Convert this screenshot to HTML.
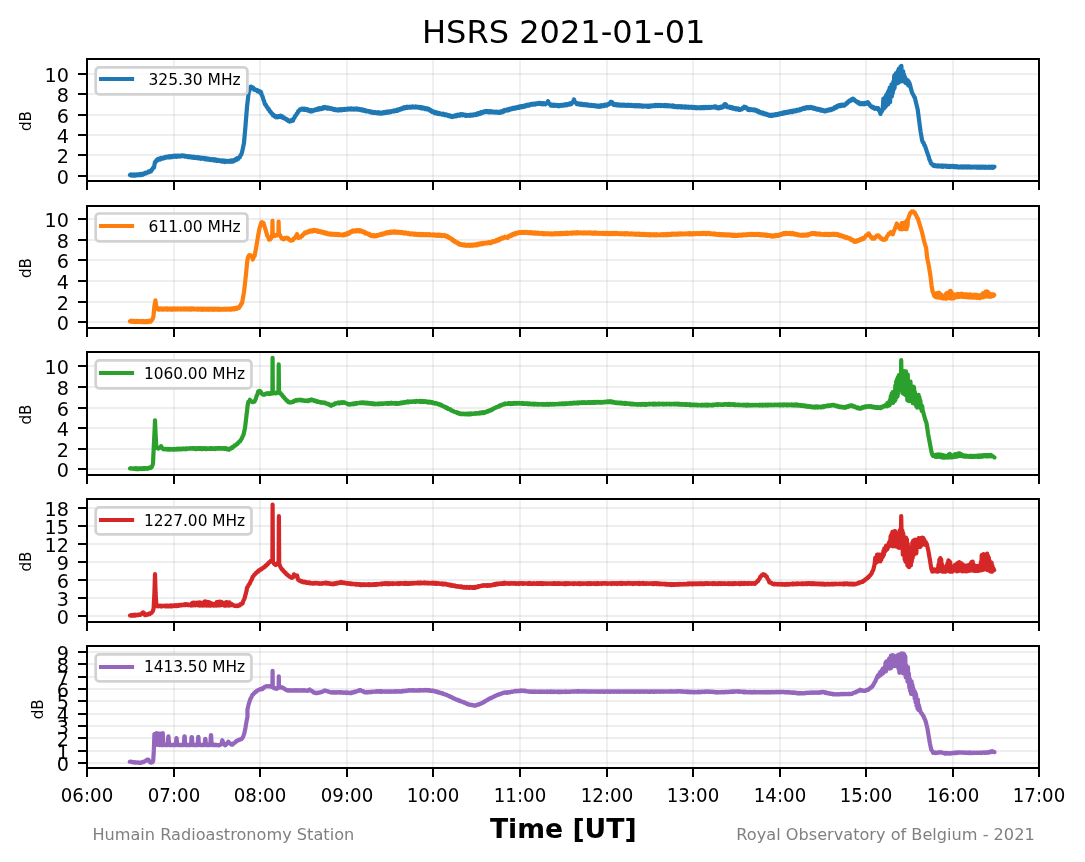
<!DOCTYPE html><html><head><meta charset="utf-8"><title>HSRS 2021-01-01</title>
<style>html,body{margin:0;padding:0;background:#fff}svg{display:block}text{font-family:"DejaVu Sans","Liberation Sans",sans-serif;fill:#000}.g{fill:#808080}</style></head><body>
<svg width="1085" height="862" viewBox="0 0 1085 862">
<rect width="1085" height="862" fill="#fff"/>
<text x="563.7" y="43.05" font-size="32.06" text-anchor="middle">HSRS 2021-01-01</text>
<g>
<line x1="174" y1="59" x2="174" y2="181" stroke="#b0b0b0" stroke-opacity="0.19" stroke-width="2"/>
<line x1="260" y1="59" x2="260" y2="181" stroke="#b0b0b0" stroke-opacity="0.19" stroke-width="2"/>
<line x1="347" y1="59" x2="347" y2="181" stroke="#b0b0b0" stroke-opacity="0.19" stroke-width="2"/>
<line x1="433" y1="59" x2="433" y2="181" stroke="#b0b0b0" stroke-opacity="0.19" stroke-width="2"/>
<line x1="520" y1="59" x2="520" y2="181" stroke="#b0b0b0" stroke-opacity="0.19" stroke-width="2"/>
<line x1="607" y1="59" x2="607" y2="181" stroke="#b0b0b0" stroke-opacity="0.19" stroke-width="2"/>
<line x1="693" y1="59" x2="693" y2="181" stroke="#b0b0b0" stroke-opacity="0.19" stroke-width="2"/>
<line x1="780" y1="59" x2="780" y2="181" stroke="#b0b0b0" stroke-opacity="0.19" stroke-width="2"/>
<line x1="866" y1="59" x2="866" y2="181" stroke="#b0b0b0" stroke-opacity="0.19" stroke-width="2"/>
<line x1="953" y1="59" x2="953" y2="181" stroke="#b0b0b0" stroke-opacity="0.19" stroke-width="2"/>
<line x1="87.0" y1="176" x2="1039.0" y2="176" stroke="#b0b0b0" stroke-opacity="0.21" stroke-width="2"/>
<line x1="87.0" y1="155" x2="1039.0" y2="155" stroke="#b0b0b0" stroke-opacity="0.21" stroke-width="2"/>
<line x1="87.0" y1="135" x2="1039.0" y2="135" stroke="#b0b0b0" stroke-opacity="0.21" stroke-width="2"/>
<line x1="87.0" y1="115" x2="1039.0" y2="115" stroke="#b0b0b0" stroke-opacity="0.21" stroke-width="2"/>
<line x1="87.0" y1="94" x2="1039.0" y2="94" stroke="#b0b0b0" stroke-opacity="0.21" stroke-width="2"/>
<line x1="87.0" y1="74" x2="1039.0" y2="74" stroke="#b0b0b0" stroke-opacity="0.21" stroke-width="2"/>
<path d="M130.0 175.0 L130.7 174.5 L131.4 175.6 L132.1 174.6 L132.8 175.5 L133.5 174.5 L134.2 175.5 L134.9 174.6 L135.6 175.6 L136.3 174.4 L137.0 175.4 L137.8 174.4 L138.5 175.1 L139.2 174.2 L140.0 175.1 L140.8 173.9 L141.5 175.0 L142.2 173.9 L143.0 174.6 L143.8 173.4 L144.6 173.8 L145.4 172.8 L146.2 173.3 L147.0 172.3 L147.8 172.6 L148.6 171.4 L149.4 172.0 L150.2 171.0 L151.0 171.4 L151.8 169.4 L152.5 169.3 L153.2 167.6 L154.0 167.5 L155.0 162.0 L155.8 161.9 L156.5 160.1 L157.2 160.6 L158.0 159.0 L158.8 159.6 L159.5 158.6 L160.2 159.4 L161.0 158.0 L161.8 158.7 L162.5 157.9 L163.2 158.4 L164.0 157.4 L164.8 158.0 L165.5 156.9 L166.2 157.6 L167.0 156.7 L167.7 157.3 L168.5 156.4 L169.2 157.3 L169.9 156.1 L170.6 157.2 L171.4 156.1 L172.1 157.0 L172.8 155.9 L173.5 156.6 L174.3 155.7 L175.0 156.7 L175.7 155.6 L176.5 156.7 L177.2 155.7 L177.9 156.5 L178.6 155.7 L179.4 156.5 L180.1 155.6 L180.8 156.2 L181.5 155.5 L182.3 156.2 L183.0 155.4 L183.7 156.2 L184.5 155.7 L185.2 156.5 L185.9 155.9 L186.6 156.7 L187.4 156.2 L188.1 157.1 L188.8 156.2 L189.5 157.1 L190.3 156.5 L191.0 157.4 L191.7 156.7 L192.4 157.5 L193.1 156.7 L193.8 157.9 L194.5 157.0 L195.2 157.9 L195.9 157.3 L196.6 158.0 L197.4 157.3 L198.1 158.2 L198.8 157.3 L199.5 158.3 L200.2 157.8 L200.9 158.8 L201.6 157.8 L202.3 158.6 L203.0 157.9 L203.7 158.8 L204.4 158.1 L205.1 159.3 L205.8 158.2 L206.5 159.4 L207.2 158.6 L207.9 159.5 L208.6 158.8 L209.4 159.8 L210.1 158.9 L210.8 160.0 L211.5 159.1 L212.2 160.0 L212.9 159.2 L213.6 160.4 L214.3 159.3 L215.0 160.6 L215.7 159.5 L216.4 160.7 L217.1 159.9 L217.9 160.9 L218.6 160.1 L219.3 160.9 L220.0 160.4 L220.7 161.2 L221.4 160.5 L222.1 161.5 L222.9 160.5 L223.6 161.6 L224.3 160.7 L225.0 162.0 L225.7 160.8 L226.5 161.7 L227.2 160.9 L227.9 161.6 L228.6 160.9 L229.4 161.5 L230.1 160.7 L230.8 161.7 L231.5 160.5 L232.3 161.5 L233.0 160.5 L233.8 161.2 L234.5 159.9 L235.2 160.4 L236.0 158.9 L236.8 159.7 L237.5 158.2 L238.2 158.8 L239.0 157.7 L239.8 157.3 L240.5 155.1 L241.2 154.8 L242.0 152.4 L244.0 143.0 L245.4 127.0 L247.0 107.0 L248.6 93.0 L250.6 86.6 L251.4 86.8 L252.3 88.2 L253.2 87.8 L254.0 89.5 L254.8 89.1 L255.6 90.1 L256.4 89.9 L257.2 91.2 L258.0 90.4 L258.8 91.7 L259.5 91.2 L260.2 92.8 L261.0 92.1 L261.8 95.2 L262.6 96.5 L263.4 99.7 L264.2 101.4 L265.0 104.6 L265.8 104.7 L266.6 106.9 L267.4 107.0 L268.2 109.2 L269.0 109.4 L269.8 111.6 L270.6 111.6 L271.4 113.4 L272.2 113.6 L273.0 115.4 L273.8 115.0 L274.5 116.4 L275.2 116.1 L276.0 117.3 L276.7 116.3 L277.4 117.2 L278.1 116.3 L278.9 117.1 L279.6 116.0 L280.3 116.9 L281.0 115.8 L281.8 117.3 L282.6 116.7 L283.4 118.1 L284.2 117.7 L285.0 118.8 L285.8 118.7 L286.6 119.9 L287.4 119.6 L288.2 121.1 L289.0 121.0 L289.8 121.6 L290.6 120.4 L291.4 121.0 L292.2 119.8 L293.0 120.5 L293.8 118.2 L294.5 117.8 L295.2 115.8 L296.0 115.4 L296.8 113.5 L297.5 113.3 L298.2 111.2 L299.0 111.1 L300.0 109.3 L301.0 109.6 L301.7 108.6 L302.4 109.6 L303.1 108.7 L303.9 109.7 L304.6 108.8 L305.3 109.8 L306.0 108.9 L306.7 110.1 L307.4 109.3 L308.1 110.6 L308.9 109.7 L309.6 111.1 L310.3 110.4 L311.0 111.5 L311.8 110.2 L312.5 111.2 L313.2 110.1 L314.0 110.5 L314.8 109.6 L315.5 110.1 L316.2 109.2 L317.0 109.7 L317.7 108.7 L318.5 109.6 L319.2 108.3 L319.9 109.1 L320.6 108.1 L321.4 108.9 L322.1 107.9 L322.8 108.7 L323.5 107.3 L324.3 108.1 L325.0 107.0 L325.8 108.1 L326.5 107.4 L327.2 108.6 L328.0 107.5 L328.8 108.6 L329.5 107.9 L330.2 108.9 L331.0 108.2 L331.8 109.1 L332.5 108.6 L333.2 109.7 L334.0 109.0 L334.8 109.9 L335.5 109.2 L336.2 110.1 L337.0 109.6 L337.8 110.4 L338.5 109.4 L339.2 110.2 L340.0 109.2 L340.8 110.3 L341.5 109.1 L342.2 110.0 L343.0 109.2 L343.8 109.8 L344.5 108.9 L345.2 109.7 L346.0 109.0 L346.8 109.6 L347.5 108.6 L348.2 109.6 L349.0 108.6 L349.7 109.3 L350.5 108.4 L351.2 109.5 L351.9 108.5 L352.6 109.3 L353.4 108.7 L354.1 109.5 L354.8 108.6 L355.5 109.3 L356.3 108.4 L357.0 109.5 L357.7 108.6 L358.5 109.6 L359.2 108.9 L359.9 109.9 L360.6 109.2 L361.4 110.3 L362.1 109.6 L362.8 110.6 L363.5 109.7 L364.3 110.8 L365.0 110.3 L365.7 111.2 L366.5 110.6 L367.2 111.4 L367.9 110.9 L368.6 111.7 L369.4 111.2 L370.1 112.1 L370.8 111.5 L371.5 112.6 L372.3 111.9 L373.0 112.8 L373.7 112.1 L374.5 112.9 L375.2 112.3 L375.9 113.0 L376.6 112.4 L377.4 113.3 L378.1 112.3 L378.8 113.2 L379.5 112.5 L380.3 113.5 L381.0 112.7 L381.7 113.5 L382.5 112.4 L383.2 113.2 L383.9 112.1 L384.6 113.0 L385.4 112.0 L386.1 112.9 L386.8 111.7 L387.5 112.6 L388.3 111.5 L389.0 112.5 L389.7 111.4 L390.5 112.1 L391.2 111.2 L391.9 111.7 L392.6 110.9 L393.4 111.4 L394.1 110.5 L394.8 111.2 L395.5 110.4 L396.3 110.9 L397.0 109.8 L397.7 110.7 L398.5 109.4 L399.2 110.0 L399.9 109.0 L400.6 109.5 L401.4 108.4 L402.1 109.0 L402.8 107.9 L403.5 108.5 L404.3 107.2 L405.0 108.2 L405.7 107.1 L406.4 107.8 L407.1 106.8 L407.8 107.7 L408.5 106.9 L409.2 107.5 L409.9 106.8 L410.6 107.6 L411.3 106.6 L412.0 107.3 L412.7 106.5 L413.4 107.3 L414.1 106.6 L414.9 107.3 L415.6 106.6 L416.3 107.3 L417.0 106.7 L417.8 107.5 L418.5 106.9 L419.2 107.9 L420.0 107.0 L420.8 108.2 L421.5 107.2 L422.2 108.4 L423.0 107.4 L423.7 108.6 L424.4 107.9 L425.1 109.0 L425.9 108.2 L426.6 109.2 L427.3 108.4 L428.0 109.3 L428.7 108.9 L429.4 110.4 L430.1 109.8 L430.9 111.2 L431.6 110.6 L432.3 111.9 L433.0 111.5 L433.8 112.7 L434.5 111.8 L435.2 113.2 L436.0 112.2 L436.8 113.5 L437.5 112.6 L438.2 113.9 L439.0 113.1 L439.7 114.1 L440.5 113.6 L441.2 114.3 L441.9 113.7 L442.6 114.6 L443.4 113.8 L444.1 115.0 L444.8 114.1 L445.5 115.2 L446.3 114.4 L447.0 115.4 L447.7 114.9 L448.4 116.0 L449.1 115.2 L449.9 116.4 L450.6 115.7 L451.3 116.9 L452.0 116.3 L452.7 117.0 L453.4 115.9 L454.1 116.4 L454.9 115.5 L455.6 116.3 L456.3 115.2 L457.0 115.9 L457.7 114.7 L458.4 115.6 L459.1 114.6 L459.9 115.4 L460.6 114.3 L461.3 115.3 L462.0 114.1 L462.7 115.2 L463.4 114.5 L464.1 115.3 L464.9 114.7 L465.6 115.7 L466.3 114.9 L467.0 115.9 L467.8 115.1 L468.5 115.6 L469.2 114.9 L470.0 115.7 L470.8 114.6 L471.5 115.6 L472.2 114.7 L473.0 115.5 L473.8 114.4 L474.5 115.1 L475.2 114.2 L476.0 114.9 L476.8 113.8 L477.5 114.6 L478.2 113.2 L479.0 113.9 L479.7 112.9 L480.4 113.7 L481.1 112.3 L481.8 113.2 L482.5 112.1 L483.2 112.6 L483.9 111.5 L484.6 112.2 L485.3 111.1 L486.0 111.7 L486.7 111.0 L487.4 112.1 L488.1 111.3 L488.8 112.2 L489.5 111.2 L490.2 112.3 L490.9 111.3 L491.6 112.2 L492.3 111.4 L493.0 112.4 L493.7 111.8 L494.4 112.4 L495.1 111.7 L495.8 112.6 L496.5 111.8 L497.2 112.6 L497.9 111.9 L498.6 112.7 L499.3 111.8 L500.0 112.7 L500.7 111.6 L501.4 112.4 L502.1 111.2 L502.9 111.9 L503.6 110.4 L504.3 111.3 L505.0 110.0 L506.0 110.6 L507.0 109.6 L507.7 110.4 L508.5 109.2 L509.2 109.9 L509.9 108.8 L510.6 109.5 L511.4 108.6 L512.1 109.0 L512.8 108.0 L513.5 108.7 L514.3 107.6 L515.0 108.4 L515.7 107.5 L516.5 108.2 L517.2 107.2 L517.9 107.8 L518.6 106.7 L519.4 107.7 L520.1 106.4 L520.8 107.3 L521.5 106.1 L522.3 107.1 L523.0 105.9 L523.7 106.7 L524.5 105.7 L525.2 106.4 L525.9 105.2 L526.6 106.0 L527.4 104.8 L528.1 105.5 L528.8 104.6 L529.5 105.4 L530.3 104.3 L531.0 104.8 L531.7 103.9 L532.5 104.6 L533.2 103.6 L533.9 104.6 L534.6 103.6 L535.4 104.4 L536.1 103.4 L536.8 104.1 L537.5 103.2 L538.3 103.8 L539.0 103.1 L539.7 103.8 L540.4 102.9 L541.1 104.0 L541.8 103.3 L542.5 104.3 L543.2 103.1 L543.9 104.3 L544.6 103.6 L545.3 104.3 L546.0 103.7 L547.0 103.1 L548.0 101.1 L549.0 103.6 L550.0 104.6 L550.8 105.5 L551.5 104.5 L552.2 105.7 L553.0 104.8 L553.8 105.7 L554.5 104.8 L555.2 105.8 L556.0 105.0 L556.8 105.8 L557.5 105.1 L558.2 106.2 L559.0 105.3 L559.7 106.0 L560.5 104.9 L561.2 105.9 L561.9 104.9 L562.6 105.5 L563.4 104.7 L564.1 105.4 L564.8 104.4 L565.5 105.4 L566.3 104.1 L567.0 105.2 L567.7 104.1 L568.4 104.5 L569.1 103.6 L569.9 104.5 L570.6 103.3 L571.3 104.1 L572.0 103.1 L573.0 102.1 L574.0 99.4 L575.0 102.3 L576.0 102.8 L576.7 104.1 L577.4 103.3 L578.1 104.1 L578.8 103.5 L579.5 104.5 L580.2 103.6 L580.9 104.8 L581.6 103.8 L582.3 105.0 L583.0 104.1 L583.7 105.1 L584.5 104.3 L585.2 105.1 L585.9 104.3 L586.6 105.3 L587.4 104.4 L588.1 105.6 L588.8 104.8 L589.5 105.6 L590.3 105.0 L591.0 105.9 L591.7 105.0 L592.5 105.9 L593.2 105.3 L593.9 106.1 L594.6 105.3 L595.4 106.2 L596.1 105.6 L596.8 106.5 L597.5 105.8 L598.3 106.5 L599.0 105.8 L599.7 106.7 L600.5 105.5 L601.2 106.5 L601.9 105.3 L602.6 106.0 L603.4 105.2 L604.1 106.0 L604.8 104.8 L605.5 105.6 L606.3 104.8 L607.0 105.4 L607.8 104.1 L608.5 104.6 L609.2 103.4 L610.0 103.9 L610.8 101.8 L611.6 101.8 L612.5 102.6 L613.4 104.8 L614.1 104.0 L614.9 105.0 L615.6 104.2 L616.4 105.2 L617.1 104.2 L617.8 105.2 L618.6 104.5 L619.3 105.5 L620.0 104.6 L620.8 105.6 L621.5 104.7 L622.3 105.5 L623.0 104.7 L623.7 105.6 L624.4 104.6 L625.1 105.7 L625.8 105.0 L626.5 105.7 L627.2 104.9 L627.9 105.9 L628.6 104.8 L629.4 105.7 L630.1 105.0 L630.8 105.8 L631.5 104.9 L632.2 105.8 L632.9 105.2 L633.6 105.9 L634.3 105.2 L635.0 106.2 L635.7 105.1 L636.4 106.2 L637.1 105.1 L637.8 106.3 L638.5 105.4 L639.2 106.2 L639.9 105.2 L640.6 106.4 L641.4 105.6 L642.1 106.5 L642.8 105.6 L643.5 106.4 L644.2 105.7 L644.9 106.4 L645.6 105.8 L646.3 106.5 L647.0 105.8 L647.7 106.8 L648.4 105.8 L649.1 106.7 L649.8 105.7 L650.5 106.4 L651.2 105.4 L651.9 106.4 L652.6 105.4 L653.4 106.1 L654.1 105.3 L654.8 106.1 L655.5 105.0 L656.2 105.9 L656.9 105.1 L657.6 106.1 L658.3 105.2 L659.0 105.8 L659.7 104.9 L660.5 106.0 L661.2 105.2 L661.9 105.8 L662.6 105.2 L663.4 106.1 L664.1 105.2 L664.8 106.1 L665.5 105.0 L666.3 106.0 L667.0 105.2 L667.7 106.3 L668.4 105.3 L669.1 106.2 L669.9 105.4 L670.6 106.3 L671.3 105.7 L672.0 106.4 L672.7 105.6 L673.4 106.8 L674.1 105.8 L674.9 107.0 L675.6 106.2 L676.3 106.9 L677.0 106.2 L677.7 107.2 L678.4 106.1 L679.1 107.1 L679.9 106.3 L680.6 107.2 L681.3 106.3 L682.0 107.4 L682.7 106.5 L683.4 107.4 L684.1 106.4 L684.9 107.5 L685.6 106.4 L686.3 107.5 L687.0 106.6 L687.7 107.4 L688.4 106.7 L689.1 107.7 L689.9 106.9 L690.6 107.6 L691.3 106.8 L692.0 107.8 L692.7 107.2 L693.4 107.8 L694.1 107.1 L694.9 108.0 L695.6 107.1 L696.3 108.3 L697.0 107.2 L697.7 108.1 L698.4 107.4 L699.1 108.0 L699.9 107.2 L700.6 108.2 L701.3 107.2 L702.0 108.0 L702.7 107.2 L703.4 108.0 L704.1 107.0 L704.9 108.0 L705.6 106.9 L706.3 107.9 L707.0 107.1 L707.8 107.9 L708.5 107.0 L709.2 107.8 L710.0 106.9 L710.8 107.8 L711.5 106.9 L712.2 107.5 L713.0 106.8 L713.8 107.4 L714.5 106.5 L715.2 107.5 L716.0 106.6 L717.0 108.0 L717.8 107.5 L718.5 108.4 L719.2 107.2 L720.0 107.9 L720.8 106.8 L721.5 107.8 L722.2 106.5 L723.0 107.3 L724.0 104.8 L725.0 104.0 L726.0 104.4 L727.0 107.2 L727.7 106.5 L728.5 107.3 L729.2 106.8 L729.9 107.7 L730.6 106.9 L731.4 108.2 L732.1 107.3 L732.8 108.5 L733.5 107.7 L734.3 108.9 L735.0 108.2 L735.8 109.3 L736.5 108.2 L737.2 109.3 L738.0 108.6 L738.8 109.7 L739.5 109.0 L740.2 109.9 L741.0 109.3 L741.8 109.3 L742.6 108.0 L743.4 108.3 L744.2 106.7 L745.0 106.9 L745.8 107.0 L746.5 108.4 L747.2 108.2 L748.0 109.7 L748.7 109.1 L749.4 109.9 L750.1 109.0 L750.8 110.1 L751.5 109.4 L752.2 110.1 L752.9 109.4 L753.6 110.3 L754.3 109.4 L755.0 110.3 L755.8 110.0 L756.5 111.2 L757.2 110.6 L758.0 111.7 L758.8 111.2 L759.5 112.6 L760.2 111.9 L761.0 113.1 L761.8 112.4 L762.5 113.5 L763.2 112.8 L764.0 114.2 L764.8 113.4 L765.5 114.4 L766.2 113.8 L767.0 114.9 L767.8 114.5 L768.6 115.5 L769.4 114.7 L770.2 115.8 L771.0 115.0 L771.8 115.9 L772.5 114.7 L773.2 115.4 L774.0 114.6 L774.8 115.2 L775.5 114.2 L776.2 115.1 L777.0 114.1 L777.7 114.7 L778.5 113.7 L779.2 114.4 L779.9 113.4 L780.6 114.0 L781.4 113.0 L782.1 113.8 L782.8 112.8 L783.5 113.4 L784.3 112.2 L785.0 113.2 L785.7 112.1 L786.5 112.7 L787.2 111.7 L787.9 112.8 L788.6 111.6 L789.4 112.2 L790.1 111.2 L790.8 112.1 L791.5 111.0 L792.3 112.0 L793.0 110.8 L793.8 111.6 L794.5 110.5 L795.2 111.2 L796.0 110.3 L796.8 111.1 L797.5 109.8 L798.2 110.5 L799.0 109.6 L799.8 110.2 L800.5 109.0 L801.2 109.7 L802.0 108.7 L802.8 109.1 L803.5 108.0 L804.2 108.8 L805.0 107.7 L805.8 108.4 L806.5 107.3 L807.2 108.1 L808.0 107.1 L808.8 107.9 L809.5 107.1 L810.2 107.9 L811.0 106.9 L811.8 108.0 L812.5 107.4 L813.2 108.5 L814.0 107.8 L814.8 108.9 L815.5 108.2 L816.2 109.2 L817.0 108.7 L817.7 109.7 L818.5 108.9 L819.2 109.9 L819.9 109.2 L820.6 110.5 L821.4 109.7 L822.1 110.6 L822.8 110.0 L823.5 111.0 L824.3 110.5 L825.0 111.4 L825.7 110.5 L826.5 111.1 L827.2 110.0 L827.9 110.6 L828.6 109.6 L829.4 110.2 L830.1 109.2 L830.8 110.1 L831.5 108.9 L832.3 109.5 L833.0 108.5 L833.8 109.0 L834.5 107.5 L835.2 108.1 L836.0 106.7 L836.8 107.5 L837.5 105.9 L838.2 106.6 L839.0 105.3 L839.8 106.1 L840.5 105.0 L841.2 106.0 L842.0 104.7 L842.8 105.6 L843.5 104.6 L844.2 105.7 L845.0 104.7 L845.8 104.7 L846.6 103.0 L847.4 103.2 L848.2 101.5 L849.0 101.8 L849.8 100.4 L850.6 100.8 L851.4 99.5 L852.2 100.1 L853.0 98.6 L853.8 100.0 L854.6 99.7 L855.4 101.2 L856.2 101.1 L857.0 102.3 L857.8 102.0 L858.5 103.3 L859.2 102.6 L860.0 104.1 L860.7 103.2 L861.5 104.1 L862.2 103.3 L862.9 104.1 L863.7 103.2 L864.4 104.2 L865.1 103.0 L865.8 103.8 L866.6 102.6 L867.3 103.4 L868.0 102.3 L868.8 104.2 L869.5 104.1 L870.2 106.1 L871.0 106.1 L871.7 107.3 L872.4 106.7 L873.2 108.0 L873.9 107.5 L874.6 108.7 L875.3 107.9 L876.1 108.8 L876.8 108.1 L877.5 109.0 L878.3 108.3 L879.0 110.7 L879.7 111.3 L880.5 113.9 L881.2 111.6 L881.9 111.3 L882.7 109.2 L883.4 98.6 L883.8 108.6 L884.3 98.7 L884.7 107.7 L885.2 97.1 L885.6 106.6 L886.1 95.2 L886.5 105.3 L887.0 94.1 L887.4 104.6 L887.9 92.0 L888.3 104.1 L888.8 90.4 L889.2 99.6 L889.7 87.7 L890.1 102.2 L890.6 87.4 L891.0 94.2 L891.5 84.3 L891.9 96.4 L892.4 86.4 L892.8 93.2 L893.3 81.5 L893.7 89.7 L894.2 75.7 L894.6 88.0 L895.1 74.5 L895.5 83.2 L896.0 73.0 L896.4 83.4 L896.9 73.1 L897.3 83.3 L897.8 71.2 L898.2 83.0 L898.7 68.9 L899.1 82.2 L899.6 69.6 L900.0 81.3 L900.5 66.6 L900.9 80.0 L901.4 65.9 L901.8 81.3 L902.3 71.3 L902.7 79.9 L903.2 71.4 L903.6 81.2 L904.1 74.6 L904.5 80.2 L905.0 77.1 L905.4 82.8 L905.9 80.0 L906.3 83.3 L906.8 79.6 L907.2 83.3 L907.7 80.4 L908.1 85.0 L908.6 81.3 L909.0 85.7 L909.5 83.1 L911.9 92.1 L912.6 93.8 L913.3 94.7 L914.1 96.8 L914.8 97.4 L917.7 109.6 L919.2 121.3 L920.6 131.5 L922.1 140.3 L922.8 142.2 L923.6 142.8 L924.3 145.3 L925.0 145.8 L928.0 154.9 L928.7 156.6 L929.4 159.4 L930.1 160.7 L930.9 163.2 L931.6 163.4 L932.3 164.9 L933.1 165.0 L933.8 165.9 L934.5 165.1 L935.3 166.1 L936.0 165.4 L936.7 166.3 L937.5 165.4 L938.2 166.3 L938.9 165.4 L939.6 166.4 L940.4 165.7 L941.1 166.4 L941.8 165.6 L942.6 166.7 L943.3 165.6 L944.0 166.6 L944.8 165.8 L945.5 166.5 L946.2 165.8 L947.0 166.8 L947.7 165.9 L948.4 166.8 L949.1 166.0 L949.9 167.0 L950.6 165.9 L951.3 166.9 L952.1 165.9 L952.8 166.9 L953.5 166.1 L954.3 167.1 L955.0 166.3 L955.7 167.0 L956.4 166.2 L957.2 167.1 L957.9 166.4 L958.6 167.5 L959.4 166.6 L960.1 167.2 L960.8 166.4 L961.6 167.4 L962.3 166.4 L963.0 167.5 L963.8 166.6 L964.5 167.3 L965.2 166.6 L965.9 167.3 L966.7 166.4 L967.4 167.5 L968.1 166.5 L968.9 167.3 L969.6 166.5 L970.3 167.6 L971.1 166.6 L971.8 167.6 L972.5 166.6 L973.3 167.4 L974.0 166.8 L974.7 167.4 L975.4 166.8 L976.2 167.5 L976.9 166.6 L977.6 167.6 L978.4 166.6 L979.1 167.7 L979.8 166.8 L980.6 167.6 L981.3 166.7 L982.0 167.7 L982.8 166.7 L983.5 167.5 L984.2 166.7 L984.9 167.8 L985.7 166.8 L986.4 167.8 L987.1 166.9 L987.9 167.6 L988.6 166.8 L989.3 167.7 L990.1 166.6 L990.8 167.7 L991.5 166.8 L992.3 167.8 L993.0 166.8 L993.7 167.5 L994.4 166.6" fill="none" stroke="#1f77b4" stroke-width="4.2" stroke-linejoin="round" stroke-linecap="round"/>
<line x1="87" y1="181" x2="87" y2="190" stroke="#000" stroke-width="2"/>
<line x1="174" y1="181" x2="174" y2="190" stroke="#000" stroke-width="2"/>
<line x1="260" y1="181" x2="260" y2="190" stroke="#000" stroke-width="2"/>
<line x1="347" y1="181" x2="347" y2="190" stroke="#000" stroke-width="2"/>
<line x1="433" y1="181" x2="433" y2="190" stroke="#000" stroke-width="2"/>
<line x1="520" y1="181" x2="520" y2="190" stroke="#000" stroke-width="2"/>
<line x1="607" y1="181" x2="607" y2="190" stroke="#000" stroke-width="2"/>
<line x1="693" y1="181" x2="693" y2="190" stroke="#000" stroke-width="2"/>
<line x1="780" y1="181" x2="780" y2="190" stroke="#000" stroke-width="2"/>
<line x1="866" y1="181" x2="866" y2="190" stroke="#000" stroke-width="2"/>
<line x1="953" y1="181" x2="953" y2="190" stroke="#000" stroke-width="2"/>
<line x1="1039" y1="181" x2="1039" y2="190" stroke="#000" stroke-width="2"/>
<line x1="78.0" y1="176" x2="87.0" y2="176" stroke="#000" stroke-width="2"/>
<text x="69" y="184" font-size="19.2" text-anchor="end">0</text>
<line x1="78.0" y1="155" x2="87.0" y2="155" stroke="#000" stroke-width="2"/>
<text x="69" y="163" font-size="19.2" text-anchor="end">2</text>
<line x1="78.0" y1="135" x2="87.0" y2="135" stroke="#000" stroke-width="2"/>
<text x="69" y="143" font-size="19.2" text-anchor="end">4</text>
<line x1="78.0" y1="115" x2="87.0" y2="115" stroke="#000" stroke-width="2"/>
<text x="69" y="123" font-size="19.2" text-anchor="end">6</text>
<line x1="78.0" y1="94" x2="87.0" y2="94" stroke="#000" stroke-width="2"/>
<text x="69" y="102" font-size="19.2" text-anchor="end">8</text>
<line x1="78.0" y1="74" x2="87.0" y2="74" stroke="#000" stroke-width="2"/>
<text x="69" y="82" font-size="19.2" text-anchor="end">10</text>
<rect x="87.0" y="59" width="952.0" height="122" fill="none" stroke="#000" stroke-width="2"/>
<text transform="translate(31,121.0) rotate(-90)" font-size="16" text-anchor="middle" textLength="20" lengthAdjust="spacingAndGlyphs">dB</text>
<rect x="95.7" y="67.35" width="151.7" height="27.05" rx="3.6" fill="#fff" fill-opacity="0.8" stroke="#d2d2d2" stroke-width="2.7"/>
<line x1="99.0" y1="79.0" x2="134.1" y2="79.0" stroke="#1f77b4" stroke-width="4.1"/>
<text x="148.5" y="84.9" font-size="16.2" textLength="92.2" lengthAdjust="spacingAndGlyphs">325.30 MHz</text>
</g>
<g>
<line x1="174" y1="206" x2="174" y2="328" stroke="#b0b0b0" stroke-opacity="0.19" stroke-width="2"/>
<line x1="260" y1="206" x2="260" y2="328" stroke="#b0b0b0" stroke-opacity="0.19" stroke-width="2"/>
<line x1="347" y1="206" x2="347" y2="328" stroke="#b0b0b0" stroke-opacity="0.19" stroke-width="2"/>
<line x1="433" y1="206" x2="433" y2="328" stroke="#b0b0b0" stroke-opacity="0.19" stroke-width="2"/>
<line x1="520" y1="206" x2="520" y2="328" stroke="#b0b0b0" stroke-opacity="0.19" stroke-width="2"/>
<line x1="607" y1="206" x2="607" y2="328" stroke="#b0b0b0" stroke-opacity="0.19" stroke-width="2"/>
<line x1="693" y1="206" x2="693" y2="328" stroke="#b0b0b0" stroke-opacity="0.19" stroke-width="2"/>
<line x1="780" y1="206" x2="780" y2="328" stroke="#b0b0b0" stroke-opacity="0.19" stroke-width="2"/>
<line x1="866" y1="206" x2="866" y2="328" stroke="#b0b0b0" stroke-opacity="0.19" stroke-width="2"/>
<line x1="953" y1="206" x2="953" y2="328" stroke="#b0b0b0" stroke-opacity="0.19" stroke-width="2"/>
<line x1="87.0" y1="322" x2="1039.0" y2="322" stroke="#b0b0b0" stroke-opacity="0.21" stroke-width="2"/>
<line x1="87.0" y1="302" x2="1039.0" y2="302" stroke="#b0b0b0" stroke-opacity="0.21" stroke-width="2"/>
<line x1="87.0" y1="281" x2="1039.0" y2="281" stroke="#b0b0b0" stroke-opacity="0.21" stroke-width="2"/>
<line x1="87.0" y1="260" x2="1039.0" y2="260" stroke="#b0b0b0" stroke-opacity="0.21" stroke-width="2"/>
<line x1="87.0" y1="240" x2="1039.0" y2="240" stroke="#b0b0b0" stroke-opacity="0.21" stroke-width="2"/>
<line x1="87.0" y1="219" x2="1039.0" y2="219" stroke="#b0b0b0" stroke-opacity="0.21" stroke-width="2"/>
<path d="M130.0 321.4 L130.8 320.9 L131.5 321.7 L132.2 320.8 L133.0 321.7 L133.8 321.0 L134.5 322.0 L135.2 320.9 L136.0 321.9 L136.8 321.0 L137.5 321.7 L138.2 320.9 L139.0 321.7 L139.7 321.1 L140.5 321.8 L141.2 321.2 L141.9 321.9 L142.6 321.0 L143.4 322.0 L144.1 321.1 L144.8 322.0 L145.5 321.2 L146.3 321.9 L147.0 321.1 L147.7 321.9 L148.5 320.9 L149.2 321.9 L149.9 320.8 L150.7 321.5 L151.4 320.5 L152.4 319.4 L153.4 316.7 L154.4 306.0 L155.4 300.4 L156.4 307.0 L157.4 309.0 L158.1 309.5 L158.9 308.5 L159.6 309.5 L160.4 308.5 L161.1 309.5 L161.8 308.5 L162.6 309.5 L163.3 308.6 L164.0 309.4 L164.8 308.5 L165.5 309.3 L166.3 308.6 L167.0 309.5 L167.7 308.5 L168.4 309.5 L169.1 308.7 L169.9 309.4 L170.6 308.6 L171.3 309.5 L172.0 308.6 L172.7 309.5 L173.4 308.4 L174.1 309.3 L174.9 308.5 L175.6 309.5 L176.3 308.6 L177.0 309.4 L177.7 308.4 L178.4 309.3 L179.1 308.6 L179.9 309.3 L180.6 308.5 L181.3 309.6 L182.0 308.6 L182.7 309.3 L183.4 308.6 L184.1 309.4 L184.9 308.5 L185.6 309.4 L186.3 308.5 L187.0 309.5 L187.7 308.6 L188.4 309.4 L189.1 308.5 L189.9 309.4 L190.6 308.6 L191.3 309.4 L192.0 308.5 L192.7 309.4 L193.4 308.5 L194.1 309.4 L194.9 308.8 L195.6 309.4 L196.3 308.7 L197.0 309.4 L197.7 308.7 L198.4 309.5 L199.1 308.6 L199.9 309.5 L200.6 308.8 L201.3 309.5 L202.0 308.7 L202.7 309.7 L203.4 308.7 L204.1 309.5 L204.9 308.7 L205.6 309.6 L206.3 308.9 L207.0 309.5 L207.7 308.7 L208.4 309.7 L209.1 308.7 L209.9 309.6 L210.6 308.8 L211.3 309.5 L212.0 308.6 L212.7 309.6 L213.4 308.7 L214.1 309.7 L214.9 308.7 L215.6 309.6 L216.3 308.8 L217.0 309.6 L217.7 308.9 L218.4 309.7 L219.1 308.8 L219.9 309.7 L220.6 308.9 L221.3 309.6 L222.0 308.9 L222.7 309.6 L223.4 308.9 L224.1 309.5 L224.9 308.7 L225.6 309.6 L226.3 308.9 L227.0 309.6 L227.7 308.7 L228.5 309.5 L229.2 308.6 L229.9 309.5 L230.6 308.6 L231.4 309.5 L232.1 308.4 L232.8 309.2 L233.5 308.3 L234.3 309.4 L235.0 308.3 L235.8 308.9 L236.6 307.8 L237.4 308.5 L238.2 307.6 L239.0 307.9 L239.8 305.9 L240.5 305.8 L241.2 303.8 L242.0 303.3 L244.0 292.0 L245.4 280.0 L246.4 270.0 L247.3 260.7 L247.9 257.8 L248.7 255.8 L249.5 255.0 L250.3 255.3 L251.6 255.7 L252.8 259.5 L253.7 257.1 L254.5 256.3 L256.2 247.5 L257.8 237.5 L259.5 228.4 L261.1 223.0 L261.8 222.1 L262.5 222.5 L263.3 222.7 L264.0 224.7 L265.7 230.1 L267.3 235.9 L268.2 237.0 L269.0 239.7 L270.3 239.5 L271.3 237.9 L272.2 234.2 L272.5 220.8 L272.7 234.2 L274.0 236.0 L274.8 234.9 L275.6 235.8 L276.5 234.7 L277.3 235.3 L278.4 233.4 L278.6 221.6 L278.9 233.4 L280.0 235.2 L281.0 237.1 L281.9 238.6 L282.7 238.8 L283.7 239.3 L284.8 237.9 L285.6 238.6 L286.4 237.7 L287.3 238.2 L288.1 238.2 L288.9 239.6 L289.7 239.6 L290.8 240.7 L291.8 240.4 L292.9 240.2 L293.9 238.3 L294.9 238.1 L296.0 236.0 L297.0 234.2 L297.6 237.1 L298.5 238.0 L299.3 237.5 L300.3 237.5 L301.4 235.8 L302.2 236.1 L303.0 234.4 L303.8 234.5 L304.7 232.8 L305.5 233.2 L306.3 232.1 L307.2 232.6 L308.0 231.4 L308.8 232.0 L309.7 230.8 L310.5 231.6 L311.3 230.5 L312.1 231.4 L312.8 230.3 L313.6 231.1 L314.3 230.0 L315.0 230.7 L315.8 230.1 L316.5 231.3 L317.3 230.6 L318.0 231.7 L318.8 230.9 L319.6 231.9 L320.4 231.3 L321.3 232.4 L322.1 231.8 L322.8 232.7 L323.5 232.1 L324.3 233.2 L325.0 232.4 L325.8 233.5 L326.6 232.8 L327.4 234.0 L328.2 233.4 L329.0 234.3 L329.7 233.6 L330.5 234.6 L331.2 233.6 L331.9 234.7 L332.6 233.8 L333.4 234.6 L334.1 233.9 L334.8 234.7 L335.5 233.9 L336.3 234.9 L337.0 234.1 L337.8 235.0 L338.5 234.0 L339.2 235.1 L340.0 234.4 L340.8 235.1 L341.5 234.6 L342.2 235.2 L343.0 234.4 L343.7 235.3 L344.4 234.1 L345.1 234.9 L345.9 233.6 L346.6 234.5 L347.3 233.3 L348.0 234.1 L348.7 232.7 L349.4 233.3 L350.1 232.0 L350.9 232.4 L351.6 231.3 L352.3 231.8 L353.0 230.5 L353.7 231.3 L354.4 230.6 L355.1 231.2 L355.8 230.3 L356.5 231.4 L357.2 230.3 L357.9 231.1 L358.6 230.2 L359.3 231.2 L360.0 230.2 L360.7 231.2 L361.4 230.8 L362.1 231.9 L362.9 231.4 L363.6 232.4 L364.3 231.8 L365.0 233.2 L365.8 232.7 L366.5 233.7 L367.2 233.4 L368.0 234.3 L368.8 233.8 L369.5 235.1 L370.2 234.5 L371.0 235.8 L371.7 235.2 L372.4 236.0 L373.1 235.2 L373.9 236.3 L374.6 235.3 L375.3 236.3 L376.0 235.6 L376.8 236.0 L377.5 235.0 L378.2 235.6 L379.0 234.7 L379.8 235.0 L380.5 234.2 L381.2 234.7 L382.0 233.7 L382.7 234.4 L383.4 233.4 L384.1 234.1 L384.8 233.1 L385.5 233.5 L386.2 232.5 L386.9 233.2 L387.6 232.2 L388.3 232.9 L389.0 232.1 L389.8 232.9 L390.5 231.8 L391.2 232.8 L392.0 231.7 L392.8 232.4 L393.5 231.6 L394.2 232.5 L395.0 231.6 L395.8 232.6 L396.5 231.8 L397.2 232.7 L398.0 231.7 L398.8 232.5 L399.5 232.0 L400.2 232.8 L401.0 231.9 L401.7 232.8 L402.5 232.3 L403.2 233.2 L403.9 232.5 L404.6 233.5 L405.4 232.6 L406.1 233.4 L406.8 232.9 L407.5 233.8 L408.3 233.1 L409.0 234.1 L409.7 233.4 L410.5 234.3 L411.2 233.4 L411.9 234.4 L412.6 233.5 L413.4 234.4 L414.1 233.7 L414.8 234.7 L415.5 233.7 L416.3 234.8 L417.0 234.0 L417.7 234.8 L418.4 234.1 L419.1 235.0 L419.9 234.0 L420.6 235.0 L421.3 234.1 L422.0 235.0 L422.7 233.9 L423.4 235.1 L424.1 234.1 L424.9 234.9 L425.6 234.2 L426.3 235.1 L427.0 234.2 L427.7 235.1 L428.4 234.2 L429.1 235.3 L429.9 234.3 L430.6 235.2 L431.3 234.6 L432.0 235.2 L432.7 234.5 L433.4 235.4 L434.1 234.5 L434.9 235.6 L435.6 234.8 L436.3 235.7 L437.0 234.7 L437.7 235.8 L438.5 234.8 L439.2 235.7 L439.9 234.8 L440.6 235.9 L441.4 234.9 L442.1 236.0 L442.8 235.1 L443.5 235.8 L444.3 235.1 L445.0 236.1 L445.7 235.6 L446.4 236.8 L447.1 236.1 L447.9 237.3 L448.6 236.9 L449.3 238.1 L450.0 237.6 L450.7 238.8 L451.4 238.7 L452.1 240.0 L452.9 239.5 L453.6 241.0 L454.3 240.8 L455.0 242.1 L455.7 241.5 L456.4 242.7 L457.1 242.4 L457.9 243.7 L458.6 243.1 L459.3 244.4 L460.0 244.0 L460.7 244.9 L461.4 244.3 L462.1 245.0 L462.8 244.5 L463.5 245.4 L464.2 244.6 L464.9 245.5 L465.6 244.8 L466.3 245.7 L467.0 245.1 L467.7 245.6 L468.5 244.7 L469.2 245.7 L469.9 245.0 L470.6 245.7 L471.4 244.7 L472.1 245.5 L472.8 244.7 L473.5 245.4 L474.3 244.6 L475.0 245.3 L475.7 244.6 L476.5 245.3 L477.2 244.0 L477.9 244.8 L478.6 243.8 L479.4 244.5 L480.1 243.5 L480.8 244.2 L481.5 243.1 L482.3 244.1 L483.0 242.9 L483.7 243.9 L484.5 242.9 L485.2 243.4 L485.9 242.7 L486.6 243.3 L487.4 242.6 L488.1 243.0 L488.8 242.2 L489.5 243.1 L490.3 242.1 L491.0 243.0 L491.8 241.6 L492.5 242.2 L493.2 241.2 L494.0 241.8 L494.8 240.9 L495.5 241.5 L496.2 240.3 L497.0 240.8 L497.7 239.6 L498.5 240.3 L499.2 239.0 L499.9 239.6 L500.6 238.5 L501.4 238.9 L502.1 237.7 L502.8 238.5 L503.5 237.3 L504.3 237.6 L505.0 236.7 L506.0 237.7 L507.0 237.1 L507.8 237.7 L508.5 236.3 L509.2 236.7 L510.0 235.5 L510.8 236.1 L511.5 234.7 L512.2 235.4 L513.0 234.1 L513.8 234.5 L514.5 233.4 L515.2 234.3 L516.0 233.0 L516.8 233.6 L517.5 232.6 L518.2 233.3 L519.0 232.3 L519.7 232.9 L520.5 232.2 L521.2 232.8 L521.9 232.1 L522.6 232.8 L523.4 232.2 L524.1 232.8 L524.8 232.0 L525.5 232.7 L526.3 231.9 L527.0 232.7 L527.7 232.2 L528.4 233.1 L529.1 232.2 L529.9 233.2 L530.6 232.1 L531.3 233.3 L532.0 232.5 L532.7 233.3 L533.4 232.6 L534.1 233.5 L534.9 232.5 L535.6 233.5 L536.3 232.7 L537.0 233.6 L537.7 232.7 L538.4 233.7 L539.1 232.9 L539.9 233.7 L540.6 233.1 L541.3 233.7 L542.0 233.0 L542.7 234.0 L543.4 233.3 L544.1 234.2 L544.9 233.3 L545.6 234.1 L546.3 233.4 L547.0 234.1 L547.7 233.3 L548.4 234.1 L549.1 233.4 L549.9 234.2 L550.6 233.4 L551.3 234.3 L552.0 233.4 L552.7 234.3 L553.4 233.4 L554.1 234.2 L554.9 233.2 L555.6 234.0 L556.3 233.2 L557.0 234.0 L557.7 233.2 L558.4 233.9 L559.1 233.2 L559.9 234.1 L560.6 232.9 L561.3 234.1 L562.0 233.2 L562.7 233.8 L563.4 232.9 L564.1 233.7 L564.9 233.0 L565.6 233.8 L566.3 232.8 L567.0 233.7 L567.7 232.8 L568.4 233.7 L569.1 233.0 L569.9 233.5 L570.6 232.7 L571.3 233.6 L572.0 232.8 L572.7 233.5 L573.4 232.5 L574.1 233.3 L574.9 232.5 L575.6 233.2 L576.3 232.5 L577.0 233.3 L577.7 232.3 L578.4 233.2 L579.1 232.6 L579.9 233.1 L580.6 232.4 L581.3 233.3 L582.0 232.6 L582.7 233.2 L583.4 232.5 L584.1 233.4 L584.9 232.4 L585.6 233.4 L586.3 232.7 L587.0 233.3 L587.7 232.5 L588.4 233.4 L589.1 232.6 L589.9 233.3 L590.6 232.6 L591.3 233.5 L592.0 232.6 L592.7 233.7 L593.4 232.7 L594.1 233.4 L594.9 232.6 L595.6 233.6 L596.3 232.6 L597.0 233.5 L597.7 232.9 L598.4 233.8 L599.1 232.9 L599.9 233.6 L600.6 232.9 L601.3 233.7 L602.0 233.0 L602.7 233.7 L603.4 232.9 L604.1 233.8 L604.9 233.1 L605.6 233.9 L606.3 232.9 L607.0 233.9 L607.7 233.1 L608.4 233.9 L609.1 233.1 L609.9 234.0 L610.6 233.2 L611.3 234.0 L612.0 232.9 L612.7 233.9 L613.4 233.1 L614.1 234.0 L614.9 233.1 L615.6 233.8 L616.3 233.0 L617.0 233.9 L617.7 233.3 L618.4 233.9 L619.1 233.3 L619.9 234.2 L620.6 233.4 L621.3 234.0 L622.0 233.2 L622.7 234.0 L623.4 233.5 L624.1 234.2 L624.9 233.3 L625.6 234.2 L626.3 233.3 L627.0 234.1 L627.7 233.3 L628.4 234.3 L629.1 233.6 L629.9 234.2 L630.6 233.5 L631.3 234.4 L632.0 233.6 L632.7 234.3 L633.4 233.7 L634.1 234.4 L634.9 233.7 L635.6 234.7 L636.3 233.9 L637.0 234.6 L637.7 233.7 L638.4 234.6 L639.1 233.8 L639.9 234.9 L640.6 234.0 L641.3 234.8 L642.0 233.9 L642.7 234.9 L643.4 234.1 L644.1 235.0 L644.9 234.0 L645.6 234.9 L646.3 234.2 L647.0 235.0 L647.7 234.2 L648.4 235.2 L649.1 234.1 L649.9 235.2 L650.6 234.2 L651.3 235.2 L652.0 234.4 L652.7 235.1 L653.4 234.2 L654.1 235.3 L654.9 234.4 L655.6 235.2 L656.3 234.3 L657.0 235.2 L657.7 234.4 L658.4 235.1 L659.1 234.4 L659.9 235.2 L660.6 234.5 L661.3 235.0 L662.0 234.1 L662.7 235.2 L663.4 234.1 L664.1 235.1 L664.9 234.1 L665.6 235.2 L666.3 234.1 L667.0 234.9 L667.7 234.1 L668.4 234.9 L669.1 234.0 L669.9 234.8 L670.6 234.0 L671.3 234.9 L672.0 233.8 L672.7 234.6 L673.4 233.8 L674.1 234.6 L674.9 233.6 L675.6 234.4 L676.3 233.7 L677.0 234.5 L677.7 233.7 L678.4 234.4 L679.1 233.4 L679.9 234.4 L680.6 233.6 L681.3 234.3 L682.0 233.5 L682.7 234.2 L683.4 233.6 L684.1 234.2 L684.9 233.5 L685.6 234.2 L686.3 233.5 L687.0 234.1 L687.7 233.5 L688.4 234.2 L689.1 233.2 L689.9 234.2 L690.6 233.3 L691.3 234.2 L692.0 233.4 L692.7 234.2 L693.4 233.3 L694.1 234.1 L694.9 233.2 L695.6 234.0 L696.3 233.3 L697.0 233.9 L697.7 233.3 L698.4 234.0 L699.1 233.2 L699.9 234.0 L700.6 233.3 L701.3 233.9 L702.0 233.0 L702.7 233.8 L703.4 233.0 L704.1 233.9 L704.9 233.1 L705.6 234.0 L706.3 233.1 L707.0 233.9 L707.7 233.1 L708.5 233.8 L709.2 233.0 L709.9 234.0 L710.6 233.4 L711.4 234.1 L712.1 233.4 L712.8 234.3 L713.5 233.6 L714.3 234.3 L715.0 233.4 L716.0 234.7 L717.0 234.1 L717.7 234.8 L718.4 234.1 L719.1 235.0 L719.9 234.1 L720.6 235.1 L721.3 234.1 L722.0 235.1 L722.7 234.2 L723.4 235.3 L724.1 234.3 L724.9 235.3 L725.6 234.4 L726.3 235.4 L727.0 234.4 L727.7 235.3 L728.4 234.5 L729.1 235.3 L729.9 234.6 L730.6 235.6 L731.3 234.8 L732.0 235.8 L732.7 234.8 L733.4 235.7 L734.1 234.8 L734.9 235.9 L735.6 234.9 L736.3 235.8 L737.0 235.0 L737.7 235.7 L738.4 234.8 L739.1 235.6 L739.9 234.8 L740.6 235.6 L741.3 234.7 L742.0 235.4 L742.7 234.4 L743.4 235.4 L744.1 234.4 L744.9 235.2 L745.6 234.4 L746.3 235.0 L747.0 234.3 L747.7 235.0 L748.4 234.1 L749.1 234.8 L749.9 234.0 L750.6 234.9 L751.3 234.0 L752.0 235.0 L752.7 233.9 L753.4 234.8 L754.1 234.1 L754.9 235.0 L755.6 234.2 L756.3 234.7 L757.0 234.0 L757.7 234.9 L758.5 234.0 L759.2 235.1 L759.9 234.2 L760.6 235.3 L761.4 234.3 L762.1 235.2 L762.8 234.4 L763.5 235.3 L764.3 234.6 L765.0 235.5 L765.7 234.7 L766.5 235.7 L767.2 234.8 L767.9 235.8 L768.6 235.2 L769.4 235.9 L770.1 235.2 L770.8 236.2 L771.5 235.4 L772.3 236.5 L773.0 235.4 L773.8 236.3 L774.5 235.4 L775.2 236.2 L776.0 235.0 L776.8 235.9 L777.5 235.0 L778.2 235.8 L779.0 234.9 L779.8 235.3 L780.5 234.2 L781.2 235.0 L782.0 233.9 L782.8 234.4 L783.5 233.3 L784.2 234.1 L785.0 232.9 L785.7 234.0 L786.5 232.9 L787.2 233.8 L787.9 233.2 L788.6 233.8 L789.4 233.1 L790.1 233.9 L790.8 233.2 L791.5 233.9 L792.3 233.1 L793.0 234.1 L793.7 233.4 L794.5 234.5 L795.2 233.6 L795.9 234.5 L796.6 234.0 L797.4 235.1 L798.1 234.4 L798.8 235.4 L799.5 234.8 L800.3 235.6 L801.0 234.9 L801.8 235.8 L802.5 234.8 L803.2 235.6 L804.0 234.8 L804.8 235.6 L805.5 234.8 L806.2 235.5 L807.0 234.6 L807.8 235.4 L808.5 234.2 L809.2 234.8 L810.0 233.9 L810.8 234.3 L811.5 233.3 L812.2 233.9 L813.0 233.1 L813.7 233.8 L814.5 233.2 L815.2 234.2 L815.9 233.3 L816.6 234.4 L817.4 233.7 L818.1 234.3 L818.8 233.6 L819.5 234.6 L820.3 233.8 L821.0 234.8 L821.7 234.1 L822.5 234.7 L823.2 234.1 L823.9 234.9 L824.6 234.0 L825.4 234.8 L826.1 234.0 L826.8 234.8 L827.5 234.1 L828.3 234.9 L829.0 234.0 L829.7 235.0 L830.5 234.0 L831.2 234.9 L831.9 234.1 L832.6 234.7 L833.4 233.8 L834.1 234.9 L834.8 234.0 L835.5 234.9 L836.3 233.9 L837.0 234.8 L837.8 234.2 L838.5 235.5 L839.2 234.7 L840.0 236.0 L840.8 235.3 L841.5 236.3 L842.2 235.7 L843.0 236.7 L843.8 236.3 L844.5 237.4 L845.2 236.7 L846.0 237.9 L846.8 237.3 L847.5 238.2 L848.2 237.8 L849.0 238.7 L849.8 238.2 L850.5 239.6 L851.2 239.2 L852.0 240.3 L852.8 240.0 L853.5 241.2 L854.2 240.8 L855.0 241.9 L855.7 241.0 L856.4 241.6 L857.1 240.5 L857.9 240.9 L858.6 240.0 L859.3 240.4 L860.0 239.5 L860.7 239.8 L861.5 238.7 L862.2 239.3 L862.9 238.3 L863.7 238.8 L864.4 237.3 L865.1 237.2 L865.8 235.6 L866.6 235.7 L867.3 234.5 L868.0 235.0 L868.8 233.4 L869.5 235.2 L870.2 235.5 L871.0 237.4 L871.8 237.1 L872.6 238.7 L873.4 238.5 L874.2 238.7 L875.0 237.1 L875.8 237.2 L876.8 235.5 L877.8 235.3 L878.7 235.5 L879.6 237.3 L880.5 237.4 L881.2 238.8 L881.9 238.5 L882.7 239.7 L883.4 239.3 L884.3 239.8 L885.1 238.6 L886.0 239.1 L887.0 236.3 L888.1 235.1 L888.9 233.6 L889.8 233.7 L890.7 232.1 L891.4 233.5 L892.1 233.0 L892.9 234.3 L893.6 231.6 L894.3 230.3 L895.1 227.8 L895.9 226.5 L896.8 223.4 L897.8 226.0 L898.7 227.1 L899.7 228.9 L900.6 229.2 L901.6 223.0 L902.1 229.4 L902.5 223.5 L903.0 227.4 L903.4 223.1 L903.9 229.0 L904.3 223.8 L904.8 228.4 L905.2 222.2 L905.7 229.1 L906.1 222.0 L906.6 229.1 L907.0 220.4 L907.5 226.3 L907.9 219.4 L910.4 212.8 L911.1 212.7 L911.9 211.4 L912.6 211.6 L913.3 211.4 L914.1 212.6 L914.8 212.5 L915.5 214.7 L916.3 215.3 L917.0 217.5 L917.7 218.1 L919.9 225.2 L922.1 232.5 L924.3 242.0 L926.1 247.8 L927.2 258.1 L929.0 266.8 L930.4 275.6 L931.6 285.8 L932.6 291.7 L933.4 293.0 L934.2 295.9 L935.3 294.8 L935.7 297.1 L936.2 293.4 L936.6 297.3 L937.1 294.6 L937.5 297.4 L938.0 292.8 L938.4 297.6 L938.9 292.5 L939.3 297.0 L939.8 293.7 L940.2 297.3 L940.7 294.6 L941.1 298.1 L941.6 294.9 L942.0 298.2 L942.5 296.0 L942.9 297.7 L943.4 296.7 L943.8 298.5 L944.3 296.1 L944.7 297.2 L945.2 295.9 L945.6 298.6 L946.1 293.6 L946.5 298.7 L947.0 292.8 L947.4 297.0 L947.9 293.7 L948.3 297.9 L948.8 293.4 L949.2 297.8 L949.7 291.3 L950.1 298.5 L950.6 290.8 L951.0 297.1 L951.5 292.1 L951.9 298.4 L952.4 293.6 L952.8 298.4 L953.3 294.8 L953.7 298.4 L954.2 295.5 L954.6 298.0 L955.1 294.7 L955.5 296.5 L956.0 294.5 L956.4 296.6 L956.9 294.4 L957.3 297.2 L957.8 293.8 L958.2 296.9 L958.7 294.4 L959.1 296.9 L959.6 294.3 L960.0 296.8 L960.5 293.8 L960.9 296.1 L961.4 293.9 L961.8 296.2 L962.3 293.9 L962.7 297.0 L963.2 294.0 L963.6 296.4 L964.1 295.3 L964.5 297.0 L965.0 294.3 L965.4 296.9 L965.9 294.8 L966.3 297.1 L966.8 294.3 L967.2 297.1 L967.7 295.0 L968.1 297.3 L968.6 295.4 L969.0 297.3 L969.5 294.3 L969.9 297.0 L970.4 294.5 L970.8 297.5 L971.3 294.7 L971.7 297.6 L972.2 295.1 L972.6 297.2 L973.1 295.2 L973.5 297.4 L974.0 294.7 L974.4 297.7 L974.9 294.8 L975.3 296.9 L975.8 294.9 L976.2 297.0 L976.7 295.0 L977.1 298.0 L977.6 295.1 L978.0 297.1 L978.5 295.4 L978.9 298.0 L979.4 296.2 L979.8 298.1 L980.3 295.2 L980.7 297.7 L981.2 295.1 L981.6 297.0 L982.1 294.3 L982.5 297.4 L983.0 293.2 L983.4 297.2 L983.9 293.7 L984.3 296.3 L984.8 292.8 L985.2 296.7 L985.7 291.6 L986.1 295.4 L986.6 291.4 L987.0 296.3 L987.5 291.7 L987.9 295.1 L988.4 292.5 L988.8 296.7 L989.3 293.5 L989.7 296.5 L990.2 295.1 L990.6 296.8 L991.1 294.4 L991.5 296.5 L992.0 294.4 L992.4 296.1 L992.9 294.4 L993.3 295.9 L993.8 294.4 L994.2 295.1" fill="none" stroke="#ff7f0e" stroke-width="4.2" stroke-linejoin="round" stroke-linecap="round"/>
<line x1="87" y1="328" x2="87" y2="337" stroke="#000" stroke-width="2"/>
<line x1="174" y1="328" x2="174" y2="337" stroke="#000" stroke-width="2"/>
<line x1="260" y1="328" x2="260" y2="337" stroke="#000" stroke-width="2"/>
<line x1="347" y1="328" x2="347" y2="337" stroke="#000" stroke-width="2"/>
<line x1="433" y1="328" x2="433" y2="337" stroke="#000" stroke-width="2"/>
<line x1="520" y1="328" x2="520" y2="337" stroke="#000" stroke-width="2"/>
<line x1="607" y1="328" x2="607" y2="337" stroke="#000" stroke-width="2"/>
<line x1="693" y1="328" x2="693" y2="337" stroke="#000" stroke-width="2"/>
<line x1="780" y1="328" x2="780" y2="337" stroke="#000" stroke-width="2"/>
<line x1="866" y1="328" x2="866" y2="337" stroke="#000" stroke-width="2"/>
<line x1="953" y1="328" x2="953" y2="337" stroke="#000" stroke-width="2"/>
<line x1="1039" y1="328" x2="1039" y2="337" stroke="#000" stroke-width="2"/>
<line x1="78.0" y1="322" x2="87.0" y2="322" stroke="#000" stroke-width="2"/>
<text x="69" y="330" font-size="19.2" text-anchor="end">0</text>
<line x1="78.0" y1="302" x2="87.0" y2="302" stroke="#000" stroke-width="2"/>
<text x="69" y="310" font-size="19.2" text-anchor="end">2</text>
<line x1="78.0" y1="281" x2="87.0" y2="281" stroke="#000" stroke-width="2"/>
<text x="69" y="289" font-size="19.2" text-anchor="end">4</text>
<line x1="78.0" y1="260" x2="87.0" y2="260" stroke="#000" stroke-width="2"/>
<text x="69" y="268" font-size="19.2" text-anchor="end">6</text>
<line x1="78.0" y1="240" x2="87.0" y2="240" stroke="#000" stroke-width="2"/>
<text x="69" y="248" font-size="19.2" text-anchor="end">8</text>
<line x1="78.0" y1="219" x2="87.0" y2="219" stroke="#000" stroke-width="2"/>
<text x="69" y="227" font-size="19.2" text-anchor="end">10</text>
<rect x="87.0" y="206" width="952.0" height="122" fill="none" stroke="#000" stroke-width="2"/>
<text transform="translate(31,268.0) rotate(-90)" font-size="16" text-anchor="middle" textLength="20" lengthAdjust="spacingAndGlyphs">dB</text>
<rect x="95.7" y="213.5" width="151.7" height="27.90" rx="3.6" fill="#fff" fill-opacity="0.8" stroke="#d2d2d2" stroke-width="2.7"/>
<line x1="99.0" y1="226.0" x2="134.1" y2="226.0" stroke="#ff7f0e" stroke-width="4.1"/>
<text x="148.5" y="231.9" font-size="16.2" textLength="92.2" lengthAdjust="spacingAndGlyphs">611.00 MHz</text>
</g>
<g>
<line x1="174" y1="352" x2="174" y2="475" stroke="#b0b0b0" stroke-opacity="0.19" stroke-width="2"/>
<line x1="260" y1="352" x2="260" y2="475" stroke="#b0b0b0" stroke-opacity="0.19" stroke-width="2"/>
<line x1="347" y1="352" x2="347" y2="475" stroke="#b0b0b0" stroke-opacity="0.19" stroke-width="2"/>
<line x1="433" y1="352" x2="433" y2="475" stroke="#b0b0b0" stroke-opacity="0.19" stroke-width="2"/>
<line x1="520" y1="352" x2="520" y2="475" stroke="#b0b0b0" stroke-opacity="0.19" stroke-width="2"/>
<line x1="607" y1="352" x2="607" y2="475" stroke="#b0b0b0" stroke-opacity="0.19" stroke-width="2"/>
<line x1="693" y1="352" x2="693" y2="475" stroke="#b0b0b0" stroke-opacity="0.19" stroke-width="2"/>
<line x1="780" y1="352" x2="780" y2="475" stroke="#b0b0b0" stroke-opacity="0.19" stroke-width="2"/>
<line x1="866" y1="352" x2="866" y2="475" stroke="#b0b0b0" stroke-opacity="0.19" stroke-width="2"/>
<line x1="953" y1="352" x2="953" y2="475" stroke="#b0b0b0" stroke-opacity="0.19" stroke-width="2"/>
<line x1="87.0" y1="469" x2="1039.0" y2="469" stroke="#b0b0b0" stroke-opacity="0.21" stroke-width="2"/>
<line x1="87.0" y1="449" x2="1039.0" y2="449" stroke="#b0b0b0" stroke-opacity="0.21" stroke-width="2"/>
<line x1="87.0" y1="428" x2="1039.0" y2="428" stroke="#b0b0b0" stroke-opacity="0.21" stroke-width="2"/>
<line x1="87.0" y1="408" x2="1039.0" y2="408" stroke="#b0b0b0" stroke-opacity="0.21" stroke-width="2"/>
<line x1="87.0" y1="387" x2="1039.0" y2="387" stroke="#b0b0b0" stroke-opacity="0.21" stroke-width="2"/>
<line x1="87.0" y1="366" x2="1039.0" y2="366" stroke="#b0b0b0" stroke-opacity="0.21" stroke-width="2"/>
<path d="M130.0 468.4 L130.8 468.1 L131.5 468.7 L132.2 468.3 L133.0 468.7 L133.8 468.3 L134.5 468.9 L135.2 468.2 L136.0 469.1 L136.8 468.3 L137.5 469.1 L138.2 468.4 L139.0 469.1 L139.7 468.4 L140.5 468.9 L141.2 468.3 L141.9 469.0 L142.6 468.4 L143.4 468.9 L144.1 468.1 L144.8 468.8 L145.5 468.1 L146.3 468.7 L147.0 468.1 L147.7 468.7 L148.5 467.9 L149.2 468.2 L149.9 467.5 L150.7 468.0 L151.4 467.4 L152.2 466.1 L153.0 463.7 L153.8 446.0 L154.6 430.0 L155.0 420.4 L155.6 434.0 L156.4 448.0 L157.3 447.8 L158.1 448.6 L159.0 448.1 L160.0 447.7 L161.0 446.1 L162.0 447.9 L163.0 448.8 L163.7 449.4 L164.5 448.8 L165.2 449.3 L165.9 448.8 L166.6 449.4 L167.4 449.0 L168.1 449.6 L168.8 449.0 L169.5 449.6 L170.3 449.0 L171.0 449.6 L171.7 449.1 L172.4 449.6 L173.1 449.0 L173.9 449.6 L174.6 449.0 L175.3 449.5 L176.0 449.0 L176.7 449.5 L177.4 448.8 L178.1 449.4 L178.9 448.7 L179.6 449.4 L180.3 448.8 L181.0 449.4 L181.7 448.6 L182.4 449.1 L183.1 448.5 L183.9 449.1 L184.6 448.6 L185.3 449.2 L186.0 448.4 L186.7 449.0 L187.4 448.4 L188.1 448.9 L188.9 448.3 L189.6 448.7 L190.3 448.2 L191.0 448.6 L191.7 448.1 L192.4 448.7 L193.1 448.2 L193.9 448.8 L194.6 448.2 L195.3 448.9 L196.0 448.2 L196.7 448.9 L197.4 448.2 L198.1 448.9 L198.9 448.2 L199.6 448.8 L200.3 448.2 L201.0 448.9 L201.7 448.2 L202.4 448.9 L203.1 448.2 L203.9 448.8 L204.6 448.3 L205.3 449.0 L206.0 448.2 L206.7 449.0 L207.4 448.4 L208.1 448.9 L208.9 448.4 L209.6 448.9 L210.3 448.2 L211.0 448.8 L211.7 448.2 L212.5 448.9 L213.2 448.3 L213.9 448.8 L214.6 448.2 L215.4 448.9 L216.1 448.1 L216.8 448.7 L217.5 448.2 L218.3 448.6 L219.0 448.0 L219.8 448.6 L220.5 448.1 L221.2 448.7 L222.0 448.1 L222.8 448.7 L223.5 448.2 L224.2 448.8 L225.0 448.1 L225.8 448.9 L226.6 448.4 L227.4 449.4 L228.2 449.0 L229.0 449.7 L229.8 448.7 L230.6 448.7 L231.4 447.6 L232.2 447.9 L233.0 446.8 L233.8 446.6 L234.6 445.4 L235.4 445.5 L236.2 444.3 L237.0 444.3 L237.8 443.0 L238.6 442.8 L239.4 441.3 L240.2 441.2 L241.0 439.7 L241.8 438.5 L242.6 436.4 L243.4 435.2 L245.0 428.0 L246.2 418.0 L247.3 408.4 L247.7 405.1 L248.4 401.8 L249.2 401.3 L249.9 399.8 L250.8 401.1 L251.6 401.5 L252.6 402.2 L253.7 401.9 L254.5 401.5 L255.3 399.8 L256.0 398.3 L256.7 395.8 L257.5 394.2 L258.2 391.5 L259.5 390.8 L260.7 391.5 L261.5 393.5 L262.4 394.1 L263.2 394.7 L264.0 394.4 L264.9 394.6 L265.7 393.6 L266.5 393.8 L267.3 393.2 L268.2 393.8 L269.0 393.2 L269.8 393.9 L270.7 393.1 L271.5 393.7 L272.4 393.1 L272.6 357.8 L272.8 393.1 L273.8 393.4 L274.8 392.7 L275.6 393.3 L276.5 392.4 L277.3 393.0 L278.5 391.9 L278.7 364.4 L279.0 392.2 L279.8 393.1 L280.6 393.2 L281.4 394.8 L282.3 395.0 L283.1 396.8 L283.9 397.0 L284.8 398.6 L285.6 398.9 L286.4 400.5 L287.3 400.6 L288.1 402.1 L288.9 401.8 L289.7 402.6 L290.6 402.3 L291.4 402.5 L292.2 401.8 L293.1 402.0 L293.9 400.9 L294.7 401.2 L295.6 400.2 L296.4 400.7 L297.2 400.0 L298.0 400.4 L298.9 399.8 L299.7 400.1 L300.5 399.7 L301.4 400.5 L302.2 400.0 L303.0 400.7 L303.8 400.3 L304.7 400.8 L305.5 400.4 L306.3 400.9 L307.2 400.5 L308.0 401.1 L308.7 400.2 L309.5 400.7 L310.2 399.9 L311.0 400.3 L311.7 399.4 L312.5 400.2 L313.2 400.0 L313.9 400.8 L314.6 400.4 L315.5 401.3 L316.3 400.9 L317.1 401.8 L317.9 401.4 L318.8 402.1 L319.6 401.8 L320.4 402.7 L321.3 402.2 L322.1 402.8 L322.8 402.4 L323.5 402.9 L324.3 402.5 L325.0 403.1 L325.7 402.9 L326.5 403.7 L327.2 403.5 L328.0 404.4 L328.7 404.0 L329.5 405.1 L330.2 404.8 L331.0 405.8 L331.8 404.7 L332.5 405.1 L333.2 404.3 L334.0 404.6 L334.8 403.5 L335.5 403.9 L336.2 403.1 L337.0 403.2 L337.7 402.6 L338.4 403.3 L339.1 402.5 L339.8 403.2 L340.5 402.5 L341.2 402.9 L341.9 402.2 L342.6 402.9 L343.3 402.2 L344.0 402.7 L344.7 402.4 L345.4 403.2 L346.1 403.0 L346.9 403.7 L347.6 403.5 L348.3 404.4 L349.0 404.1 L349.8 404.6 L350.5 404.0 L351.2 404.4 L352.0 403.8 L352.8 404.3 L353.5 403.5 L354.2 404.1 L355.0 403.4 L355.8 403.8 L356.5 403.0 L357.2 403.5 L358.0 402.9 L358.8 403.2 L359.5 402.6 L360.2 403.1 L361.0 402.4 L361.8 403.0 L362.5 402.4 L363.2 403.1 L364.0 402.5 L364.8 403.2 L365.5 402.6 L366.2 403.3 L367.0 402.7 L367.7 403.5 L368.5 402.9 L369.2 403.6 L369.9 403.0 L370.6 403.8 L371.4 403.3 L372.1 404.0 L372.8 403.3 L373.5 404.1 L374.3 403.7 L375.0 404.3 L375.7 403.6 L376.5 404.1 L377.2 403.7 L377.9 404.2 L378.6 403.5 L379.4 404.1 L380.1 403.5 L380.8 404.1 L381.5 403.4 L382.3 404.0 L383.0 403.4 L383.7 403.8 L384.5 403.3 L385.2 403.7 L385.9 403.1 L386.6 403.7 L387.4 403.2 L388.1 403.8 L388.8 403.0 L389.5 403.5 L390.3 403.0 L391.0 403.6 L391.7 402.8 L392.5 403.5 L393.2 403.1 L393.9 403.6 L394.6 403.0 L395.4 403.7 L396.1 403.0 L396.8 403.7 L397.5 403.1 L398.3 403.8 L399.0 403.1 L399.7 403.5 L400.5 402.7 L401.2 403.2 L401.9 402.5 L402.6 403.0 L403.4 402.3 L404.1 402.8 L404.8 402.0 L405.5 402.5 L406.3 401.8 L407.0 402.3 L407.7 401.5 L408.5 402.3 L409.2 401.5 L409.9 402.0 L410.6 401.5 L411.4 401.9 L412.1 401.3 L412.8 401.8 L413.5 401.3 L414.3 401.8 L415.0 401.1 L415.7 401.7 L416.5 401.0 L417.2 401.6 L417.9 401.1 L418.6 401.6 L419.4 401.0 L420.1 401.8 L420.8 401.1 L421.5 401.8 L422.3 401.0 L423.0 401.7 L423.7 401.2 L424.5 401.9 L425.2 401.3 L425.9 402.0 L426.6 401.5 L427.4 402.3 L428.1 401.7 L428.8 402.5 L429.5 401.8 L430.3 402.5 L431.0 402.0 L431.8 402.8 L432.5 402.3 L433.2 403.2 L434.0 402.8 L434.8 403.5 L435.5 402.9 L436.2 403.7 L437.0 403.4 L437.8 404.1 L438.5 403.8 L439.2 404.7 L440.0 404.4 L440.8 405.3 L441.5 405.0 L442.2 405.9 L443.0 405.8 L443.8 406.7 L444.5 406.5 L445.2 407.4 L446.0 407.1 L446.8 408.2 L447.5 407.9 L448.2 409.0 L449.0 408.8 L449.8 409.6 L450.5 409.4 L451.2 410.5 L452.0 410.3 L452.8 411.2 L453.5 411.0 L454.2 411.9 L455.0 411.8 L455.8 412.4 L456.5 412.1 L457.2 413.0 L458.0 412.6 L458.8 413.5 L459.5 413.2 L460.2 414.0 L461.0 413.7 L461.7 414.2 L462.5 413.7 L463.2 414.2 L463.9 413.6 L464.6 414.3 L465.4 413.8 L466.1 414.3 L466.8 413.7 L467.5 414.4 L468.3 413.7 L469.0 414.2 L469.7 413.5 L470.5 414.3 L471.2 413.5 L471.9 414.0 L472.6 413.5 L473.4 413.9 L474.1 413.4 L474.8 413.8 L475.5 413.2 L476.3 413.7 L477.0 413.1 L477.7 413.6 L478.5 413.0 L479.2 413.5 L479.9 412.7 L480.6 413.3 L481.4 412.5 L482.1 413.1 L482.8 412.3 L483.5 413.0 L484.3 412.1 L485.0 412.7 L485.8 411.8 L486.5 412.1 L487.2 411.1 L488.0 411.5 L488.8 410.6 L489.5 410.9 L490.2 410.1 L491.0 410.4 L491.8 409.4 L492.5 409.6 L493.2 408.5 L494.0 408.7 L494.8 407.8 L495.5 408.0 L496.2 407.1 L497.0 407.2 L497.8 406.5 L498.5 406.7 L499.2 405.7 L500.0 406.1 L500.8 405.2 L501.5 405.4 L502.2 404.5 L503.0 404.7 L503.8 403.9 L504.5 404.4 L505.2 403.5 L506.0 404.0 L507.0 403.6 L507.7 403.9 L508.4 403.2 L509.1 403.8 L509.8 403.2 L510.5 403.9 L511.2 403.2 L511.9 403.8 L512.6 403.1 L513.4 403.7 L514.1 403.0 L514.8 403.6 L515.5 403.0 L516.2 403.6 L516.9 402.9 L517.6 403.5 L518.3 402.9 L519.0 403.5 L519.7 403.0 L520.4 403.6 L521.1 403.1 L521.8 403.8 L522.5 403.1 L523.2 403.8 L523.9 403.2 L524.6 403.9 L525.4 403.4 L526.1 403.9 L526.8 403.3 L527.5 404.1 L528.2 403.5 L528.9 404.2 L529.6 403.5 L530.3 404.2 L531.0 403.8 L531.7 404.4 L532.4 403.8 L533.1 404.4 L533.8 403.7 L534.5 404.5 L535.2 403.8 L535.9 404.4 L536.6 403.9 L537.4 404.6 L538.1 403.9 L538.8 404.5 L539.5 404.1 L540.2 404.6 L540.9 404.1 L541.6 404.6 L542.3 404.0 L543.0 404.7 L543.7 404.1 L544.4 404.6 L545.1 404.1 L545.8 404.8 L546.5 404.0 L547.2 404.6 L547.9 404.0 L548.6 404.7 L549.4 403.9 L550.1 404.5 L550.8 403.9 L551.5 404.5 L552.2 403.9 L552.9 404.5 L553.6 403.9 L554.3 404.5 L555.0 403.9 L555.7 404.4 L556.4 403.9 L557.1 404.4 L557.8 403.9 L558.5 404.3 L559.2 403.6 L559.9 404.2 L560.6 403.7 L561.4 404.1 L562.1 403.5 L562.8 404.0 L563.5 403.4 L564.2 404.1 L564.9 403.5 L565.6 404.0 L566.3 403.3 L567.0 403.9 L567.7 403.3 L568.4 403.7 L569.1 403.2 L569.8 403.7 L570.5 403.0 L571.2 403.6 L571.9 403.0 L572.6 403.6 L573.4 402.8 L574.1 403.4 L574.8 402.8 L575.5 403.4 L576.2 402.6 L576.9 403.2 L577.6 402.5 L578.3 403.2 L579.0 402.5 L579.7 403.1 L580.4 402.5 L581.1 402.9 L581.8 402.3 L582.5 403.0 L583.2 402.3 L583.9 402.9 L584.6 402.2 L585.4 403.0 L586.1 402.4 L586.8 402.9 L587.5 402.2 L588.2 402.8 L588.9 402.1 L589.6 402.7 L590.3 402.1 L591.0 402.8 L591.7 402.1 L592.4 402.7 L593.1 402.1 L593.8 402.7 L594.5 402.0 L595.2 402.7 L595.9 402.0 L596.6 402.5 L597.4 401.9 L598.1 402.6 L598.8 401.9 L599.5 402.6 L600.2 402.0 L600.9 402.5 L601.6 402.0 L602.3 402.6 L603.0 402.0 L603.7 402.3 L604.4 401.7 L605.1 402.3 L605.8 401.8 L606.5 402.2 L607.2 401.5 L607.9 402.1 L608.6 401.5 L609.3 402.0 L610.0 401.3 L610.7 402.1 L611.4 401.5 L612.1 402.4 L612.9 401.8 L613.6 402.5 L614.3 402.2 L615.0 402.9 L615.7 402.5 L616.4 403.1 L617.1 402.5 L617.8 403.1 L618.5 402.6 L619.2 403.2 L619.9 402.6 L620.6 403.4 L621.4 402.8 L622.1 403.5 L622.8 403.0 L623.5 403.6 L624.2 403.0 L624.9 403.8 L625.6 403.1 L626.3 403.8 L627.0 403.4 L627.7 403.9 L628.4 403.4 L629.1 404.0 L629.9 403.5 L630.6 404.2 L631.3 403.6 L632.0 404.3 L632.7 403.7 L633.4 404.3 L634.1 403.8 L634.9 404.5 L635.6 404.1 L636.3 404.6 L637.0 404.1 L637.7 404.7 L638.4 404.1 L639.1 404.6 L639.8 404.1 L640.5 404.7 L641.2 404.1 L641.9 404.7 L642.6 403.9 L643.3 404.6 L644.0 404.0 L644.7 404.7 L645.4 404.0 L646.1 404.7 L646.8 404.1 L647.5 404.5 L648.2 403.9 L648.9 404.4 L649.6 403.8 L650.3 404.4 L651.0 403.9 L651.7 404.4 L652.5 403.8 L653.2 404.5 L653.9 403.8 L654.6 404.5 L655.4 403.8 L656.1 404.5 L656.8 403.9 L657.5 404.4 L658.3 403.7 L659.0 404.3 L659.7 403.7 L660.5 404.3 L661.2 403.9 L661.9 404.3 L662.6 403.7 L663.4 404.5 L664.1 403.8 L664.8 404.4 L665.5 403.8 L666.3 404.4 L667.0 403.7 L667.7 404.2 L668.4 403.8 L669.1 404.4 L669.8 403.8 L670.5 404.4 L671.2 403.8 L671.9 404.3 L672.6 403.8 L673.4 404.4 L674.1 403.8 L674.8 404.4 L675.5 403.7 L676.2 404.4 L676.9 403.8 L677.6 404.4 L678.3 403.8 L679.0 404.6 L679.7 404.0 L680.4 404.5 L681.1 404.0 L681.8 404.7 L682.5 404.1 L683.2 404.7 L683.9 404.2 L684.6 404.8 L685.4 404.2 L686.1 404.8 L686.8 404.2 L687.5 404.8 L688.2 404.3 L688.9 404.9 L689.6 404.3 L690.3 405.2 L691.0 404.4 L691.7 405.1 L692.4 404.6 L693.1 405.2 L693.9 404.6 L694.6 405.2 L695.3 404.6 L696.0 405.2 L696.7 404.7 L697.4 405.4 L698.1 404.8 L698.9 405.4 L699.6 404.9 L700.3 405.4 L701.0 404.9 L701.7 405.6 L702.4 404.8 L703.1 405.4 L703.8 404.8 L704.5 405.3 L705.2 404.8 L705.9 405.5 L706.6 404.8 L707.4 405.5 L708.1 404.7 L708.8 405.3 L709.5 404.8 L710.2 405.3 L710.9 404.8 L711.6 405.4 L712.3 404.8 L713.0 405.4 L713.8 404.7 L714.6 405.0 L715.4 404.4 L716.2 404.9 L717.0 404.3 L717.7 405.0 L718.4 404.2 L719.1 404.9 L719.8 404.4 L720.5 404.8 L721.2 404.3 L721.9 404.9 L722.6 404.3 L723.4 404.8 L724.1 404.2 L724.8 404.7 L725.5 404.1 L726.2 404.7 L726.9 404.2 L727.6 404.8 L728.3 404.1 L729.0 404.8 L729.7 404.0 L730.4 404.8 L731.1 404.3 L731.8 404.8 L732.5 404.2 L733.2 404.8 L733.9 404.3 L734.6 405.0 L735.4 404.5 L736.1 405.1 L736.8 404.6 L737.5 405.1 L738.2 404.6 L738.9 405.2 L739.6 404.7 L740.3 405.2 L741.0 404.8 L741.7 405.2 L742.5 404.8 L743.2 405.4 L743.9 404.7 L744.6 405.4 L745.4 404.9 L746.1 405.5 L746.8 404.8 L747.5 405.5 L748.3 404.8 L749.0 405.4 L749.7 404.9 L750.5 405.5 L751.2 404.9 L751.9 405.4 L752.6 404.9 L753.4 405.4 L754.1 404.9 L754.8 405.4 L755.5 404.8 L756.3 405.4 L757.0 404.9 L757.7 405.4 L758.5 404.9 L759.2 405.5 L759.9 404.8 L760.6 405.4 L761.4 404.9 L762.1 405.5 L762.8 404.7 L763.5 405.3 L764.3 404.8 L765.0 405.4 L765.7 404.7 L766.5 405.3 L767.2 404.7 L767.9 405.4 L768.6 404.7 L769.4 405.2 L770.1 404.6 L770.8 405.3 L771.5 404.7 L772.3 405.2 L773.0 404.8 L773.7 405.3 L774.4 404.6 L775.1 405.2 L775.8 404.7 L776.5 405.2 L777.2 404.7 L777.9 405.2 L778.6 404.6 L779.4 405.3 L780.1 404.5 L780.8 405.2 L781.5 404.6 L782.2 405.2 L782.9 404.5 L783.6 405.2 L784.3 404.4 L785.0 405.1 L785.7 404.6 L786.4 405.2 L787.1 404.5 L787.8 405.2 L788.5 404.6 L789.2 405.2 L789.9 404.6 L790.6 405.1 L791.4 404.5 L792.1 405.3 L792.8 404.6 L793.5 405.2 L794.2 404.6 L794.9 405.4 L795.6 404.6 L796.3 405.3 L797.0 404.6 L797.7 405.5 L798.5 404.9 L799.2 405.6 L799.9 405.0 L800.6 405.8 L801.4 405.2 L802.1 405.9 L802.8 405.3 L803.5 406.1 L804.3 405.5 L805.0 406.2 L805.7 405.7 L806.5 406.6 L807.2 406.0 L807.9 406.7 L808.6 406.2 L809.4 406.8 L810.1 406.3 L810.8 407.0 L811.5 406.5 L812.3 407.3 L813.0 406.7 L813.7 407.4 L814.5 406.7 L815.2 407.4 L815.9 406.6 L816.6 407.3 L817.4 406.6 L818.1 407.4 L818.8 406.7 L819.5 407.2 L820.3 406.7 L821.0 407.4 L821.7 406.6 L822.5 407.1 L823.2 406.2 L823.9 406.9 L824.6 406.2 L825.4 406.5 L826.1 405.9 L826.8 406.2 L827.5 405.5 L828.3 406.0 L829.0 405.3 L829.8 405.8 L830.6 405.1 L831.4 405.5 L832.2 404.8 L833.0 405.4 L833.8 404.9 L834.5 405.7 L835.2 405.4 L836.0 406.1 L836.8 405.6 L837.5 406.5 L838.2 406.1 L839.0 407.0 L839.8 406.5 L840.5 407.1 L841.2 406.7 L842.0 407.4 L842.8 406.9 L843.5 407.5 L844.2 406.9 L845.0 407.7 L845.8 406.9 L846.5 407.3 L847.2 406.4 L848.0 406.9 L848.8 406.0 L849.5 406.4 L850.2 405.4 L851.0 405.9 L851.8 405.4 L852.5 406.3 L853.2 406.0 L854.0 406.8 L854.8 406.5 L855.5 407.3 L856.2 407.1 L857.0 408.0 L857.8 407.5 L858.5 408.4 L859.2 408.0 L860.0 408.7 L860.7 408.0 L861.5 408.3 L862.2 407.3 L862.9 407.8 L863.7 407.0 L864.4 407.4 L865.1 406.5 L865.8 407.1 L866.6 406.4 L867.3 406.8 L868.0 406.1 L868.8 406.7 L869.5 406.1 L870.2 406.9 L871.0 406.3 L871.7 407.0 L872.4 406.6 L873.2 407.4 L873.9 406.8 L874.6 407.6 L875.3 407.1 L876.1 407.8 L876.8 407.2 L877.5 407.9 L878.3 407.2 L879.0 407.9 L879.7 407.4 L880.5 408.1 L881.2 407.0 L881.9 407.5 L882.7 406.5 L883.4 406.8 L884.1 406.0 L886.3 404.6 L886.8 406.3 L887.2 403.2 L887.7 406.1 L888.1 403.0 L888.6 405.4 L889.0 401.9 L889.5 405.4 L889.9 400.0 L890.4 403.8 L890.8 396.0 L891.3 401.6 L891.7 393.5 L892.2 402.5 L892.6 392.2 L893.1 403.0 L893.5 395.0 L894.0 400.2 L894.4 391.7 L894.9 401.0 L895.3 385.5 L895.8 399.2 L896.2 381.4 L896.7 397.3 L897.1 379.1 L897.6 396.3 L898.0 377.1 L898.5 392.9 L898.9 375.1 L899.4 389.1 L899.8 375.3 L900.3 390.6 L900.9 379.2 L901.2 360.2 L901.6 379.2 L902.4 372.6 L902.8 393.3 L903.3 375.0 L903.7 393.9 L904.2 371.1 L904.6 388.4 L905.1 375.5 L905.5 395.1 L906.0 371.4 L906.4 390.6 L906.9 375.5 L907.3 400.2 L907.8 374.6 L908.2 400.8 L908.7 381.5 L909.1 401.1 L909.6 385.6 L910.0 397.1 L910.5 381.5 L910.9 398.3 L911.4 386.4 L911.8 398.3 L912.3 391.5 L912.7 403.1 L913.2 386.5 L913.6 398.3 L914.1 387.4 L914.5 400.1 L915.0 392.4 L915.4 404.5 L915.9 396.8 L916.3 406.4 L916.8 394.8 L917.2 407.6 L917.7 396.0 L918.1 406.8 L918.6 394.9 L919.0 403.4 L919.5 397.4 L919.9 406.7 L920.4 400.7 L920.8 408.5 L921.3 405.0 L921.7 410.8 L922.2 406.2 L922.6 410.0 L925.0 418.7 L926.5 423.1 L928.0 433.3 L929.9 443.5 L931.6 452.3 L932.3 454.6 L933.1 456.0 L934.5 455.2 L935.0 456.7 L935.4 454.9 L935.9 456.9 L936.3 454.8 L936.8 456.8 L937.2 454.6 L937.7 456.8 L938.1 454.4 L938.6 456.5 L939.0 454.7 L939.5 456.9 L939.9 454.5 L940.4 457.0 L940.8 454.7 L941.3 456.3 L941.7 454.8 L942.2 457.4 L942.6 455.7 L943.1 457.6 L943.5 455.3 L944.0 457.6 L944.4 455.9 L944.9 457.4 L945.3 455.9 L945.8 457.6 L946.2 456.0 L946.7 457.4 L947.1 456.0 L947.6 457.3 L948.0 456.1 L948.5 457.5 L948.9 454.3 L949.4 457.2 L949.8 453.9 L950.3 457.3 L950.7 454.8 L951.2 457.3 L951.6 455.9 L952.1 457.3 L952.5 455.8 L953.0 457.1 L953.4 455.3 L953.9 457.0 L954.3 454.7 L954.8 456.9 L955.2 454.2 L955.7 455.6 L956.1 454.5 L956.6 456.6 L957.0 454.2 L957.5 455.3 L957.9 453.7 L958.4 456.3 L958.8 453.4 L959.3 456.0 L959.7 453.3 L960.2 456.0 L960.6 453.8 L961.1 455.5 L961.5 454.5 L962.0 456.1 L962.4 455.3 L962.9 456.2 L963.3 455.2 L963.8 456.4 L964.2 455.5 L964.7 456.5 L965.1 455.8 L965.6 456.3 L966.0 455.7 L966.5 456.6 L966.9 455.8 L967.4 456.4 L967.8 456.1 L968.3 456.7 L968.7 456.1 L969.2 456.5 L969.6 456.1 L970.1 456.8 L970.5 456.0 L971.0 456.7 L971.4 456.0 L971.9 456.9 L972.3 456.0 L972.8 456.8 L973.2 456.2 L973.7 456.9 L974.1 455.8 L974.6 456.8 L975.0 455.9 L975.5 456.6 L975.9 455.9 L976.4 456.5 L976.8 456.1 L977.3 456.8 L977.7 455.7 L978.2 456.9 L978.6 455.6 L979.1 456.8 L979.5 455.5 L980.0 456.7 L980.4 455.4 L980.9 456.7 L981.3 455.9 L981.8 456.7 L982.2 455.3 L982.7 456.6 L983.1 455.2 L983.6 456.4 L984.0 455.1 L984.5 456.1 L984.9 455.5 L985.4 456.1 L985.8 455.1 L986.3 456.4 L986.7 455.2 L987.2 456.3 L987.6 455.1 L988.1 456.4 L988.5 455.1 L989.0 456.2 L989.4 455.4 L989.9 456.0 L990.3 455.0 L990.8 456.4 L991.2 455.1 L994.4 457.4" fill="none" stroke="#2ca02c" stroke-width="4.2" stroke-linejoin="round" stroke-linecap="round"/>
<line x1="87" y1="475" x2="87" y2="484" stroke="#000" stroke-width="2"/>
<line x1="174" y1="475" x2="174" y2="484" stroke="#000" stroke-width="2"/>
<line x1="260" y1="475" x2="260" y2="484" stroke="#000" stroke-width="2"/>
<line x1="347" y1="475" x2="347" y2="484" stroke="#000" stroke-width="2"/>
<line x1="433" y1="475" x2="433" y2="484" stroke="#000" stroke-width="2"/>
<line x1="520" y1="475" x2="520" y2="484" stroke="#000" stroke-width="2"/>
<line x1="607" y1="475" x2="607" y2="484" stroke="#000" stroke-width="2"/>
<line x1="693" y1="475" x2="693" y2="484" stroke="#000" stroke-width="2"/>
<line x1="780" y1="475" x2="780" y2="484" stroke="#000" stroke-width="2"/>
<line x1="866" y1="475" x2="866" y2="484" stroke="#000" stroke-width="2"/>
<line x1="953" y1="475" x2="953" y2="484" stroke="#000" stroke-width="2"/>
<line x1="1039" y1="475" x2="1039" y2="484" stroke="#000" stroke-width="2"/>
<line x1="78.0" y1="469" x2="87.0" y2="469" stroke="#000" stroke-width="2"/>
<text x="69" y="477" font-size="19.2" text-anchor="end">0</text>
<line x1="78.0" y1="449" x2="87.0" y2="449" stroke="#000" stroke-width="2"/>
<text x="69" y="457" font-size="19.2" text-anchor="end">2</text>
<line x1="78.0" y1="428" x2="87.0" y2="428" stroke="#000" stroke-width="2"/>
<text x="69" y="436" font-size="19.2" text-anchor="end">4</text>
<line x1="78.0" y1="408" x2="87.0" y2="408" stroke="#000" stroke-width="2"/>
<text x="69" y="416" font-size="19.2" text-anchor="end">6</text>
<line x1="78.0" y1="387" x2="87.0" y2="387" stroke="#000" stroke-width="2"/>
<text x="69" y="395" font-size="19.2" text-anchor="end">8</text>
<line x1="78.0" y1="366" x2="87.0" y2="366" stroke="#000" stroke-width="2"/>
<text x="69" y="374" font-size="19.2" text-anchor="end">10</text>
<rect x="87.0" y="352" width="952.0" height="123" fill="none" stroke="#000" stroke-width="2"/>
<text transform="translate(31,414.5) rotate(-90)" font-size="16" text-anchor="middle" textLength="20" lengthAdjust="spacingAndGlyphs">dB</text>
<rect x="95.7" y="360.35" width="155.75" height="28.00" rx="3.6" fill="#fff" fill-opacity="0.8" stroke="#d2d2d2" stroke-width="2.7"/>
<line x1="99.0" y1="373.0" x2="134.1" y2="373.0" stroke="#2ca02c" stroke-width="4.1"/>
<text x="143.9" y="379.0" font-size="16.2" textLength="101.3" lengthAdjust="spacingAndGlyphs">1060.00 MHz</text>
</g>
<g>
<line x1="174" y1="499" x2="174" y2="622" stroke="#b0b0b0" stroke-opacity="0.19" stroke-width="2"/>
<line x1="260" y1="499" x2="260" y2="622" stroke="#b0b0b0" stroke-opacity="0.19" stroke-width="2"/>
<line x1="347" y1="499" x2="347" y2="622" stroke="#b0b0b0" stroke-opacity="0.19" stroke-width="2"/>
<line x1="433" y1="499" x2="433" y2="622" stroke="#b0b0b0" stroke-opacity="0.19" stroke-width="2"/>
<line x1="520" y1="499" x2="520" y2="622" stroke="#b0b0b0" stroke-opacity="0.19" stroke-width="2"/>
<line x1="607" y1="499" x2="607" y2="622" stroke="#b0b0b0" stroke-opacity="0.19" stroke-width="2"/>
<line x1="693" y1="499" x2="693" y2="622" stroke="#b0b0b0" stroke-opacity="0.19" stroke-width="2"/>
<line x1="780" y1="499" x2="780" y2="622" stroke="#b0b0b0" stroke-opacity="0.19" stroke-width="2"/>
<line x1="866" y1="499" x2="866" y2="622" stroke="#b0b0b0" stroke-opacity="0.19" stroke-width="2"/>
<line x1="953" y1="499" x2="953" y2="622" stroke="#b0b0b0" stroke-opacity="0.19" stroke-width="2"/>
<line x1="87.0" y1="616" x2="1039.0" y2="616" stroke="#b0b0b0" stroke-opacity="0.21" stroke-width="2"/>
<line x1="87.0" y1="598" x2="1039.0" y2="598" stroke="#b0b0b0" stroke-opacity="0.21" stroke-width="2"/>
<line x1="87.0" y1="580" x2="1039.0" y2="580" stroke="#b0b0b0" stroke-opacity="0.21" stroke-width="2"/>
<line x1="87.0" y1="562" x2="1039.0" y2="562" stroke="#b0b0b0" stroke-opacity="0.21" stroke-width="2"/>
<line x1="87.0" y1="544" x2="1039.0" y2="544" stroke="#b0b0b0" stroke-opacity="0.21" stroke-width="2"/>
<line x1="87.0" y1="526" x2="1039.0" y2="526" stroke="#b0b0b0" stroke-opacity="0.21" stroke-width="2"/>
<line x1="87.0" y1="508" x2="1039.0" y2="508" stroke="#b0b0b0" stroke-opacity="0.21" stroke-width="2"/>
<path d="M130.0 615.4 L130.7 615.2 L131.4 615.7 L132.1 615.0 L132.8 615.6 L133.5 614.9 L134.2 615.5 L134.9 614.8 L135.6 615.5 L136.3 614.8 L137.0 615.2 L137.8 614.6 L138.6 615.1 L139.4 614.5 L140.2 614.9 L141.0 614.2 L141.8 613.9 L142.6 612.5 L143.4 612.4 L144.2 613.2 L145.0 615.2 L145.8 614.5 L146.6 614.8 L147.4 614.1 L148.2 614.4 L149.0 613.6 L149.8 614.0 L150.5 613.0 L151.2 613.2 L152.0 612.2 L152.8 611.2 L153.6 608.6 L154.4 593.0 L155.0 574.0 L155.6 593.0 L156.4 606.0 L157.1 606.2 L157.8 605.7 L158.5 606.3 L159.2 605.6 L159.9 606.2 L160.6 605.7 L161.3 606.4 L162.1 605.6 L162.8 606.2 L163.5 605.8 L164.2 606.2 L164.9 605.7 L165.6 606.3 L166.3 605.7 L167.0 606.3 L167.7 605.7 L168.4 606.3 L169.1 605.6 L169.9 606.3 L170.6 605.5 L171.3 606.2 L172.0 605.4 L172.7 606.2 L173.4 605.4 L174.1 605.9 L174.9 605.3 L175.6 606.0 L176.3 605.3 L177.0 606.0 L177.7 605.3 L178.5 605.8 L179.2 605.0 L179.9 605.6 L180.6 604.9 L181.4 605.3 L182.1 604.7 L182.8 605.1 L183.5 604.6 L184.3 605.0 L185.0 604.2 L185.8 605.0 L186.6 604.3 L187.4 605.1 L188.2 604.4 L189.0 605.2 L190.6 604.5 L191.0 605.6 L191.5 603.6 L191.9 605.4 L192.4 602.8 L192.8 605.5 L193.3 603.0 L193.7 605.2 L194.2 602.7 L194.6 605.0 L195.1 602.9 L195.5 605.4 L196.0 603.1 L196.4 604.4 L196.9 603.0 L197.3 604.8 L197.8 602.6 L198.2 605.5 L198.7 603.3 L199.1 605.0 L199.6 602.5 L200.0 605.6 L200.5 602.5 L200.9 605.4 L201.4 603.7 L201.8 605.1 L202.3 603.2 L202.7 605.6 L203.2 602.8 L203.6 604.6 L204.1 602.0 L204.5 604.9 L205.0 601.4 L205.4 605.5 L205.9 601.5 L206.3 605.6 L206.8 601.8 L207.2 604.0 L207.7 603.3 L208.1 605.6 L208.6 602.0 L209.0 604.2 L209.5 602.3 L209.9 605.6 L210.4 602.8 L210.8 605.6 L211.3 603.2 L211.7 605.5 L212.2 603.7 L212.6 604.9 L213.1 604.0 L213.5 605.6 L214.0 604.2 L214.4 605.5 L214.9 603.7 L215.3 605.3 L215.8 603.2 L216.2 605.6 L216.7 602.2 L217.1 604.9 L217.6 602.1 L218.0 605.3 L218.5 602.3 L218.9 604.8 L219.4 601.6 L219.8 605.5 L220.3 602.9 L220.7 605.3 L221.2 601.8 L221.6 605.2 L222.1 602.3 L222.5 605.0 L223.0 602.8 L223.4 605.0 L223.9 603.5 L224.3 605.6 L224.8 603.9 L225.2 605.6 L225.7 602.4 L226.1 605.6 L226.6 602.1 L227.0 604.8 L227.5 602.3 L227.9 605.5 L228.4 602.9 L228.8 605.6 L229.3 602.4 L229.7 605.2 L230.2 603.9 L230.6 605.3 L231.1 603.8 L231.5 605.2 L232.0 604.2 L232.4 605.2 L232.9 605.0 L235.0 606.0 L235.8 605.6 L236.6 606.1 L237.4 605.5 L238.2 606.0 L239.0 605.4 L239.7 605.3 L240.4 604.2 L241.2 604.4 L241.9 603.3 L242.6 603.4 L243.4 600.6 L244.2 599.4 L245.0 596.6 L246.6 590.6 L247.0 587.7 L247.9 586.7 L248.7 584.7 L249.6 583.9 L250.7 581.2 L251.7 579.7 L252.7 576.8 L253.6 576.0 L254.5 574.4 L255.4 574.1 L256.1 572.8 L256.8 572.7 L257.6 571.4 L258.3 571.5 L259.0 570.1 L259.8 570.3 L260.7 569.1 L261.5 569.3 L262.4 568.0 L263.2 568.1 L264.0 567.0 L264.8 566.9 L265.5 565.6 L266.3 565.5 L267.1 564.3 L267.9 564.1 L268.7 562.5 L269.5 562.4 L270.5 561.1 L271.5 560.9 L272.4 560.1 L272.6 504.7 L272.9 561.6 L274.2 564.1 L274.9 563.9 L275.7 565.1 L276.5 563.7 L277.3 563.5 L278.6 562.0 L278.9 516.2 L279.2 563.7 L280.1 566.2 L280.9 567.7 L281.7 569.1 L282.5 569.3 L283.3 571.0 L284.1 571.2 L284.9 572.7 L285.6 572.8 L286.4 574.3 L287.2 574.4 L288.0 575.6 L288.8 575.8 L289.6 576.8 L290.3 577.0 L291.4 577.8 L292.4 577.6 L293.2 576.6 L294.0 574.3 L294.8 576.1 L295.6 576.5 L296.3 576.6 L297.1 575.5 L298.2 579.9 L298.9 580.0 L299.6 580.8 L300.4 580.6 L301.1 581.5 L301.8 581.2 L302.6 582.0 L303.3 581.6 L304.1 582.3 L304.8 581.8 L305.5 582.6 L306.3 582.2 L307.0 582.9 L307.8 582.4 L308.5 583.1 L309.3 582.5 L310.0 583.3 L310.8 582.9 L311.5 583.4 L312.3 583.1 L313.1 583.7 L313.9 583.0 L314.8 583.5 L315.6 582.8 L316.4 583.4 L317.3 582.9 L318.1 583.5 L318.9 583.1 L319.8 583.9 L320.6 583.3 L321.3 583.8 L322.1 583.1 L322.8 583.5 L323.5 583.0 L324.3 583.3 L325.0 582.7 L325.7 583.4 L326.5 582.8 L327.2 583.6 L327.9 583.0 L328.6 583.7 L329.4 583.2 L330.1 583.9 L330.8 583.5 L331.5 584.1 L332.3 583.7 L333.0 584.2 L333.7 583.5 L334.5 584.0 L335.2 583.3 L335.9 583.8 L336.6 583.0 L337.4 583.4 L338.1 582.7 L338.8 583.1 L339.5 582.4 L340.3 582.9 L341.0 582.1 L341.7 582.9 L342.5 582.4 L343.2 583.1 L343.9 582.5 L344.6 583.2 L345.4 582.9 L346.1 583.5 L346.8 583.1 L347.5 583.7 L348.3 583.1 L349.0 583.8 L349.7 583.4 L350.4 584.0 L351.1 583.5 L351.8 584.1 L352.5 583.6 L353.2 584.2 L353.9 583.8 L354.6 584.3 L355.4 583.8 L356.1 584.6 L356.8 583.9 L357.5 584.5 L358.2 584.1 L358.9 584.8 L359.6 584.2 L360.3 584.9 L361.0 584.2 L361.7 585.0 L362.4 584.4 L363.1 585.0 L363.8 584.3 L364.5 584.8 L365.2 584.4 L365.9 585.0 L366.6 584.4 L367.4 584.8 L368.1 584.3 L368.8 585.0 L369.5 584.3 L370.2 585.0 L370.9 584.4 L371.6 584.9 L372.3 584.3 L373.0 584.8 L373.7 584.2 L374.4 584.8 L375.1 584.2 L375.8 584.8 L376.5 584.0 L377.2 584.5 L377.9 584.0 L378.6 584.5 L379.4 583.8 L380.1 584.2 L380.8 583.7 L381.5 584.3 L382.2 583.5 L382.9 584.0 L383.6 583.4 L384.3 584.0 L385.0 583.3 L385.7 583.8 L386.4 583.2 L387.1 584.0 L387.8 583.2 L388.5 584.0 L389.2 583.3 L389.9 584.0 L390.6 583.4 L391.4 583.8 L392.1 583.3 L392.8 584.0 L393.5 583.4 L394.2 583.8 L394.9 583.4 L395.6 583.9 L396.3 583.4 L397.0 583.8 L397.7 583.2 L398.4 583.9 L399.1 583.2 L399.8 583.8 L400.5 583.2 L401.2 583.7 L401.9 583.1 L402.6 583.7 L403.4 583.2 L404.1 583.8 L404.8 583.1 L405.5 583.8 L406.2 583.0 L406.9 583.8 L407.6 583.2 L408.3 583.8 L409.0 583.2 L409.7 583.8 L410.4 583.1 L411.1 583.6 L411.8 582.9 L412.5 583.5 L413.2 583.0 L413.9 583.5 L414.6 582.9 L415.4 583.4 L416.1 582.9 L416.8 583.4 L417.5 582.7 L418.2 583.3 L418.9 582.7 L419.6 583.3 L420.3 582.7 L421.0 583.3 L421.7 582.7 L422.4 583.2 L423.1 582.8 L423.8 583.3 L424.5 582.6 L425.2 583.3 L425.9 582.9 L426.6 583.4 L427.4 582.8 L428.1 583.5 L428.8 582.9 L429.5 583.4 L430.2 582.9 L430.9 583.5 L431.6 582.9 L432.3 583.5 L433.0 582.8 L433.7 583.6 L434.4 582.9 L435.1 583.8 L435.8 583.1 L436.5 583.8 L437.2 583.2 L437.9 583.7 L438.6 583.2 L439.4 583.8 L440.1 583.5 L440.8 584.0 L441.5 583.5 L442.2 584.2 L442.9 583.5 L443.6 584.2 L444.3 583.6 L445.0 584.4 L445.7 583.8 L446.4 584.6 L447.1 584.1 L447.9 584.8 L448.6 584.5 L449.3 585.2 L450.0 584.7 L450.7 585.5 L451.4 584.9 L452.1 585.8 L452.9 585.3 L453.6 585.9 L454.3 585.5 L455.0 586.3 L455.7 585.9 L456.4 586.5 L457.1 586.1 L457.9 586.6 L458.6 586.2 L459.3 586.9 L460.0 586.4 L460.7 587.0 L461.4 586.5 L462.1 587.3 L462.9 586.8 L463.6 587.5 L464.3 586.9 L465.0 587.6 L465.7 587.1 L466.4 587.7 L467.1 587.0 L467.9 587.7 L468.6 587.2 L469.3 587.8 L470.0 587.0 L470.7 587.6 L471.4 587.1 L472.1 587.8 L472.9 587.2 L473.6 587.7 L474.3 587.0 L475.0 587.8 L475.7 587.0 L476.5 587.4 L477.2 586.6 L477.9 587.0 L478.6 586.1 L479.4 586.5 L480.1 585.9 L480.8 586.2 L481.5 585.5 L482.3 585.8 L483.0 585.2 L483.8 585.7 L484.5 585.2 L485.2 585.7 L486.0 585.2 L486.8 585.9 L487.5 585.2 L488.2 585.8 L489.0 585.2 L489.7 585.7 L490.5 585.1 L491.2 585.5 L491.9 584.8 L492.6 585.2 L493.4 584.5 L494.1 584.9 L494.8 584.0 L495.5 584.7 L496.3 583.8 L497.0 584.3 L497.7 583.6 L498.5 584.2 L499.2 583.4 L499.9 583.9 L500.6 583.3 L501.4 583.8 L502.1 583.2 L502.8 583.8 L503.5 583.0 L504.3 583.7 L505.0 582.8 L506.0 583.6 L507.0 583.2 L507.7 583.6 L508.4 583.1 L509.1 583.8 L509.8 583.2 L510.5 583.6 L511.2 583.2 L511.9 583.7 L512.6 583.1 L513.3 583.6 L514.0 583.2 L514.7 583.7 L515.4 583.1 L516.1 583.9 L516.8 583.3 L517.5 583.7 L518.2 583.1 L518.9 583.9 L519.6 583.2 L520.3 583.7 L521.0 583.2 L521.7 583.7 L522.4 583.2 L523.1 583.8 L523.8 583.2 L524.5 583.7 L525.2 583.3 L525.9 583.7 L526.6 583.3 L527.4 583.8 L528.1 583.2 L528.8 583.8 L529.5 583.1 L530.2 583.9 L530.9 583.3 L531.6 583.8 L532.3 583.3 L533.0 583.9 L533.7 583.2 L534.4 583.7 L535.1 583.3 L535.8 583.9 L536.5 583.3 L537.2 583.9 L537.9 583.3 L538.6 583.9 L539.3 583.2 L540.0 583.8 L540.7 583.2 L541.4 583.8 L542.1 583.2 L542.8 584.0 L543.5 583.2 L544.2 583.8 L544.9 583.4 L545.6 583.9 L546.3 583.3 L547.0 583.8 L547.7 583.4 L548.4 583.9 L549.1 583.4 L549.8 583.9 L550.5 583.4 L551.2 583.8 L551.9 583.3 L552.6 583.9 L553.3 583.2 L554.0 583.8 L554.7 583.2 L555.4 583.8 L556.1 583.3 L556.8 583.9 L557.5 583.3 L558.2 583.9 L558.9 583.2 L559.6 583.8 L560.3 583.3 L561.0 583.9 L561.7 583.4 L562.4 583.8 L563.1 583.4 L563.8 584.0 L564.5 583.2 L565.2 584.0 L565.9 583.2 L566.6 584.0 L567.4 583.3 L568.1 583.9 L568.8 583.2 L569.5 583.8 L570.2 583.3 L570.9 583.8 L571.6 583.4 L572.3 583.9 L573.0 583.4 L573.7 584.0 L574.4 583.2 L575.1 583.9 L575.8 583.4 L576.5 583.8 L577.2 583.3 L577.9 583.9 L578.6 583.3 L579.3 584.0 L580.0 583.3 L580.7 584.0 L581.4 583.4 L582.1 583.8 L582.8 583.3 L583.5 583.9 L584.2 583.4 L584.9 583.9 L585.6 583.4 L586.3 583.9 L587.0 583.3 L587.7 584.0 L588.4 583.2 L589.1 583.9 L589.8 583.3 L590.5 584.0 L591.2 583.2 L591.9 583.9 L592.6 583.4 L593.3 583.9 L594.0 583.2 L594.7 583.8 L595.4 583.4 L596.1 584.0 L596.8 583.2 L597.5 583.8 L598.2 583.2 L598.9 583.9 L599.6 583.3 L600.3 583.7 L601.0 583.2 L601.7 583.9 L602.4 583.2 L603.1 583.7 L603.8 583.2 L604.5 583.7 L605.2 583.1 L605.9 583.7 L606.6 583.2 L607.4 583.9 L608.1 583.3 L608.8 583.7 L609.5 583.3 L610.2 583.7 L610.9 583.2 L611.6 583.9 L612.3 583.2 L613.0 583.7 L613.7 583.1 L614.4 583.8 L615.1 583.2 L615.8 583.7 L616.5 583.2 L617.2 583.9 L617.9 583.2 L618.6 583.7 L619.3 583.1 L620.0 583.8 L620.7 583.0 L621.4 583.7 L622.1 583.0 L622.8 583.7 L623.5 583.2 L624.2 583.7 L624.9 583.1 L625.6 583.8 L626.3 583.2 L627.0 583.6 L627.7 583.0 L628.4 583.6 L629.1 583.0 L629.9 583.7 L630.6 583.2 L631.3 583.7 L632.0 583.1 L632.7 583.9 L633.4 583.2 L634.1 583.8 L634.9 583.2 L635.6 583.7 L636.3 583.1 L637.0 583.7 L637.7 583.2 L638.4 583.8 L639.1 583.1 L639.9 583.9 L640.6 583.2 L641.3 583.7 L642.0 583.1 L642.7 583.8 L643.4 583.1 L644.1 583.9 L644.9 583.3 L645.6 583.9 L646.3 583.2 L647.0 583.8 L647.7 583.3 L648.4 583.8 L649.1 583.3 L649.9 583.8 L650.6 583.3 L651.3 583.8 L652.0 583.2 L652.7 583.9 L653.4 583.2 L654.1 584.0 L654.9 583.2 L655.6 583.8 L656.3 583.2 L657.0 584.0 L657.7 583.2 L658.5 584.0 L659.2 583.4 L659.9 584.2 L660.6 583.6 L661.4 584.2 L662.1 583.6 L662.8 584.3 L663.5 583.8 L664.3 584.4 L665.0 583.8 L665.7 584.5 L666.5 583.9 L667.2 584.6 L667.9 583.9 L668.6 584.7 L669.4 584.2 L670.1 584.8 L670.8 584.1 L671.5 584.9 L672.3 584.2 L673.0 584.8 L673.7 584.2 L674.4 584.9 L675.2 584.2 L675.9 584.7 L676.6 584.1 L677.3 584.8 L678.0 584.0 L678.8 584.6 L679.5 584.0 L680.2 584.5 L680.9 584.0 L681.6 584.5 L682.4 584.0 L683.1 584.5 L683.8 583.9 L684.5 584.3 L685.2 583.9 L686.0 584.4 L686.7 583.8 L687.4 584.3 L688.1 583.6 L688.8 584.3 L689.6 583.5 L690.3 584.1 L691.0 583.5 L691.7 584.2 L692.4 583.5 L693.1 584.2 L693.8 583.4 L694.5 584.0 L695.2 583.4 L695.9 584.1 L696.6 583.5 L697.4 584.1 L698.1 583.4 L698.8 584.0 L699.5 583.4 L700.2 584.0 L700.9 583.3 L701.6 584.1 L702.3 583.5 L703.0 584.0 L703.7 583.4 L704.4 584.1 L705.1 583.3 L705.8 583.9 L706.5 583.3 L707.2 583.9 L707.9 583.3 L708.6 583.9 L709.4 583.3 L710.1 583.9 L710.8 583.4 L711.5 583.9 L712.2 583.2 L712.9 584.0 L713.6 583.3 L714.3 583.8 L715.0 583.2 L716.0 584.0 L717.0 583.4 L717.7 584.0 L718.4 583.2 L719.1 583.9 L719.9 583.3 L720.6 584.0 L721.3 583.2 L722.0 583.8 L722.7 583.3 L723.4 583.9 L724.1 583.2 L724.9 583.8 L725.6 583.3 L726.3 583.9 L727.0 583.3 L727.7 583.8 L728.4 583.2 L729.1 584.0 L729.9 583.3 L730.6 584.0 L731.3 583.4 L732.0 584.0 L732.7 583.3 L733.4 584.0 L734.1 583.2 L734.9 583.9 L735.6 583.2 L736.3 583.8 L737.0 583.4 L737.7 583.9 L738.4 583.2 L739.2 584.0 L739.9 583.2 L740.6 583.9 L741.3 583.1 L742.0 583.9 L742.8 583.3 L743.5 583.9 L744.2 583.1 L744.9 583.8 L745.6 583.2 L746.4 583.7 L747.1 583.2 L747.8 583.8 L748.5 583.2 L749.2 583.8 L750.0 583.2 L750.7 583.6 L751.4 583.2 L752.1 583.8 L752.8 583.1 L753.6 583.7 L754.3 583.2 L755.0 583.7 L755.8 582.6 L756.5 582.5 L757.2 581.2 L758.0 581.2 L758.8 579.4 L759.5 578.9 L760.2 576.9 L761.0 576.4 L761.8 575.1 L762.5 575.3 L763.2 574.1 L764.0 574.4 L764.9 574.7 L765.7 576.1 L766.6 576.3 L767.5 578.6 L768.5 580.0 L769.4 582.4 L770.1 582.1 L770.8 583.0 L771.6 582.9 L772.3 583.9 L773.0 583.6 L773.7 584.3 L774.4 583.7 L775.1 584.3 L775.8 583.9 L776.5 584.3 L777.2 583.9 L777.9 584.5 L778.6 583.9 L779.4 584.4 L780.1 584.0 L780.8 584.5 L781.5 584.0 L782.2 584.6 L782.9 584.0 L783.6 584.6 L784.3 584.1 L785.0 584.7 L785.7 584.0 L786.4 584.6 L787.1 583.9 L787.8 584.6 L788.5 584.0 L789.2 584.5 L789.9 583.9 L790.6 584.3 L791.4 583.9 L792.1 584.4 L792.8 583.6 L793.5 584.3 L794.2 583.7 L794.9 584.2 L795.6 583.6 L796.3 584.2 L797.0 583.5 L797.7 584.0 L798.4 583.4 L799.1 584.1 L799.8 583.6 L800.5 584.1 L801.2 583.4 L801.9 584.0 L802.6 583.4 L803.3 584.1 L804.0 583.4 L804.7 584.0 L805.4 583.4 L806.1 584.0 L806.8 583.3 L807.5 584.0 L808.2 583.2 L808.9 583.9 L809.6 583.3 L810.3 584.0 L811.0 583.2 L811.7 584.0 L812.4 583.3 L813.1 584.0 L813.8 583.3 L814.5 584.1 L815.2 583.5 L815.9 584.0 L816.6 583.6 L817.3 584.3 L818.0 583.5 L818.7 584.1 L819.4 583.7 L820.1 584.3 L820.8 583.7 L821.5 584.3 L822.2 583.7 L822.9 584.4 L823.6 583.8 L824.3 584.6 L825.0 583.9 L825.7 584.5 L826.4 583.9 L827.1 584.4 L827.8 583.8 L828.5 584.5 L829.2 583.9 L829.9 584.4 L830.6 583.8 L831.4 584.4 L832.1 583.7 L832.8 584.4 L833.5 583.8 L834.2 584.3 L834.9 583.7 L835.6 584.2 L836.3 583.7 L837.0 584.2 L837.7 583.8 L838.4 584.2 L839.1 583.6 L839.9 584.2 L840.6 583.7 L841.3 584.1 L842.0 583.7 L842.7 584.2 L843.4 583.5 L844.1 584.3 L844.9 583.4 L845.6 584.1 L846.3 583.4 L847.0 584.0 L847.7 583.4 L848.5 584.2 L849.2 583.7 L849.9 584.3 L850.6 583.6 L851.4 584.3 L852.1 583.8 L852.8 584.5 L853.5 583.8 L854.3 584.5 L855.0 583.8 L855.7 584.2 L856.4 583.5 L857.1 583.7 L857.9 583.0 L858.6 583.3 L859.3 582.4 L860.0 582.7 L860.7 582.0 L861.5 582.1 L862.2 581.3 L862.9 581.7 L863.7 580.6 L864.4 580.7 L865.1 579.4 L865.8 579.6 L866.6 578.4 L867.3 578.4 L868.0 577.1 L868.8 577.1 L869.5 575.5 L870.2 575.5 L871.0 574.2 L871.7 573.2 L872.4 571.3 L873.2 570.3 L874.6 564.2 L875.3 557.6 L875.8 563.1 L876.2 557.6 L876.7 562.2 L877.1 554.5 L877.6 559.2 L878.0 554.5 L878.5 561.3 L878.9 555.3 L879.4 559.6 L879.8 554.6 L880.3 561.3 L880.7 554.9 L881.2 560.1 L881.6 555.4 L882.1 557.8 L882.5 554.0 L883.0 556.7 L883.4 550.9 L883.9 554.8 L884.3 548.4 L884.8 552.1 L885.2 548.3 L885.7 550.6 L886.1 545.6 L886.6 549.8 L887.0 545.4 L887.5 549.1 L887.9 545.0 L888.4 546.7 L888.8 542.9 L889.3 546.3 L889.7 541.2 L890.2 544.8 L890.6 536.2 L891.1 544.9 L891.5 534.2 L892.0 545.2 L892.4 531.8 L892.9 546.5 L893.3 532.9 L893.8 542.5 L894.2 531.3 L894.7 546.2 L895.1 531.0 L895.6 546.5 L896.0 532.9 L896.5 540.0 L896.9 534.3 L897.4 546.6 L897.8 533.0 L898.3 547.6 L898.7 535.0 L899.2 547.9 L899.6 530.3 L900.1 546.6 L900.5 529.8 L900.9 533.5 L901.2 516.0 L901.6 533.5 L902.4 530.6 L902.8 554.7 L903.3 533.4 L903.7 555.2 L904.2 540.2 L904.6 559.5 L905.1 542.4 L905.5 561.8 L906.0 537.5 L906.4 561.3 L906.9 539.3 L907.3 565.3 L907.8 543.9 L908.2 566.5 L908.7 549.8 L909.1 567.1 L909.6 551.6 L910.0 561.6 L910.5 548.1 L910.9 565.4 L911.4 549.9 L911.8 561.7 L912.3 542.6 L912.7 558.0 L913.2 540.6 L913.6 555.1 L914.1 542.6 L914.5 554.0 L915.0 539.5 L915.4 553.4 L915.9 540.0 L916.3 553.3 L916.8 542.5 L917.2 546.0 L917.7 541.1 L918.1 545.9 L918.6 538.2 L919.0 544.5 L919.5 538.3 L919.9 547.1 L920.4 538.2 L920.8 546.2 L921.3 538.9 L921.7 544.3 L922.2 537.5 L922.6 544.5 L923.1 537.8 L923.5 544.5 L924.0 539.2 L924.4 544.7 L924.9 541.2 L925.3 544.6 L925.8 542.0 L926.2 545.1 L926.7 543.7 L927.1 545.4 L928.4 551.1 L929.9 559.8 L931.3 568.6 L932.3 571.5 L933.1 569.2 L933.5 571.5 L934.0 569.5 L934.4 570.7 L934.9 569.6 L935.3 570.7 L935.8 570.0 L936.2 571.3 L936.7 569.6 L937.1 571.7 L937.6 568.3 L938.0 571.6 L938.5 564.4 L938.9 569.1 L939.4 559.5 L939.8 571.1 L940.3 558.0 L940.7 571.0 L941.2 559.4 L941.6 566.8 L942.1 564.3 L942.5 571.7 L943.0 567.6 L943.4 571.6 L943.9 568.8 L944.3 570.7 L944.8 567.4 L945.2 571.7 L945.7 567.1 L946.1 571.7 L946.6 565.5 L947.0 570.9 L947.5 563.1 L947.9 566.5 L948.4 560.3 L948.8 570.9 L949.3 561.0 L949.7 571.7 L950.2 562.2 L950.6 571.2 L951.1 567.1 L951.5 571.7 L952.0 566.4 L952.4 571.7 L952.9 567.9 L953.3 570.7 L953.8 567.8 L954.2 568.9 L954.7 565.2 L955.1 570.5 L955.6 564.6 L956.0 569.7 L956.5 565.8 L956.9 571.4 L957.4 563.2 L957.8 571.2 L958.3 563.4 L958.7 570.9 L959.2 562.0 L959.6 568.7 L960.1 564.3 L960.5 570.7 L961.0 563.0 L961.4 568.7 L961.9 564.2 L962.3 571.3 L962.8 564.4 L963.2 570.5 L963.7 566.8 L964.1 571.0 L964.6 565.9 L965.0 571.3 L965.5 565.7 L965.9 569.5 L966.4 566.2 L966.8 571.3 L967.3 566.3 L967.7 571.2 L968.2 565.1 L968.6 570.9 L969.1 564.9 L969.5 570.2 L970.0 564.8 L970.4 570.7 L970.9 562.8 L971.3 569.5 L971.8 561.9 L972.2 570.5 L972.7 561.7 L973.1 569.8 L973.6 564.5 L974.0 570.9 L974.5 565.7 L974.9 570.2 L975.4 565.8 L975.8 571.0 L976.3 567.5 L976.7 570.5 L977.2 565.8 L977.6 571.0 L978.1 568.1 L978.5 571.0 L979.0 566.2 L979.4 569.9 L979.9 567.2 L980.3 569.9 L980.8 562.2 L981.2 570.4 L981.7 555.2 L982.1 563.8 L982.6 558.3 L983.0 569.9 L983.5 554.2 L983.9 569.5 L984.4 559.5 L984.8 569.5 L985.3 555.6 L985.7 563.6 L986.2 555.0 L986.6 563.7 L987.1 553.5 L987.5 570.1 L988.0 555.8 L988.4 568.1 L988.9 557.9 L989.3 565.9 L989.8 561.2 L990.2 571.4 L990.7 563.1 L991.1 571.6 L991.6 562.6 L992.0 571.7 L992.5 566.0 L992.9 569.8 L993.4 568.5 L994.2 570.1" fill="none" stroke="#d62728" stroke-width="4.2" stroke-linejoin="round" stroke-linecap="round"/>
<line x1="87" y1="622" x2="87" y2="631" stroke="#000" stroke-width="2"/>
<line x1="174" y1="622" x2="174" y2="631" stroke="#000" stroke-width="2"/>
<line x1="260" y1="622" x2="260" y2="631" stroke="#000" stroke-width="2"/>
<line x1="347" y1="622" x2="347" y2="631" stroke="#000" stroke-width="2"/>
<line x1="433" y1="622" x2="433" y2="631" stroke="#000" stroke-width="2"/>
<line x1="520" y1="622" x2="520" y2="631" stroke="#000" stroke-width="2"/>
<line x1="607" y1="622" x2="607" y2="631" stroke="#000" stroke-width="2"/>
<line x1="693" y1="622" x2="693" y2="631" stroke="#000" stroke-width="2"/>
<line x1="780" y1="622" x2="780" y2="631" stroke="#000" stroke-width="2"/>
<line x1="866" y1="622" x2="866" y2="631" stroke="#000" stroke-width="2"/>
<line x1="953" y1="622" x2="953" y2="631" stroke="#000" stroke-width="2"/>
<line x1="1039" y1="622" x2="1039" y2="631" stroke="#000" stroke-width="2"/>
<line x1="78.0" y1="616" x2="87.0" y2="616" stroke="#000" stroke-width="2"/>
<text x="69" y="624" font-size="19.2" text-anchor="end">0</text>
<line x1="78.0" y1="598" x2="87.0" y2="598" stroke="#000" stroke-width="2"/>
<text x="69" y="606" font-size="19.2" text-anchor="end">3</text>
<line x1="78.0" y1="580" x2="87.0" y2="580" stroke="#000" stroke-width="2"/>
<text x="69" y="588" font-size="19.2" text-anchor="end">6</text>
<line x1="78.0" y1="562" x2="87.0" y2="562" stroke="#000" stroke-width="2"/>
<text x="69" y="570" font-size="19.2" text-anchor="end">9</text>
<line x1="78.0" y1="544" x2="87.0" y2="544" stroke="#000" stroke-width="2"/>
<text x="69" y="552" font-size="19.2" text-anchor="end">12</text>
<line x1="78.0" y1="526" x2="87.0" y2="526" stroke="#000" stroke-width="2"/>
<text x="69" y="534" font-size="19.2" text-anchor="end">15</text>
<line x1="78.0" y1="508" x2="87.0" y2="508" stroke="#000" stroke-width="2"/>
<text x="69" y="516" font-size="19.2" text-anchor="end">18</text>
<rect x="87.0" y="499" width="952.0" height="123" fill="none" stroke="#000" stroke-width="2"/>
<text transform="translate(31,561.5) rotate(-90)" font-size="16" text-anchor="middle" textLength="20" lengthAdjust="spacingAndGlyphs">dB</text>
<rect x="95.7" y="507.35" width="155.75" height="27.05" rx="3.6" fill="#fff" fill-opacity="0.8" stroke="#d2d2d2" stroke-width="2.7"/>
<line x1="99.0" y1="520.0" x2="134.1" y2="520.0" stroke="#d62728" stroke-width="4.1"/>
<text x="143.9" y="526.0" font-size="16.2" textLength="101.3" lengthAdjust="spacingAndGlyphs">1227.00 MHz</text>
</g>
<g>
<line x1="174" y1="646" x2="174" y2="768" stroke="#b0b0b0" stroke-opacity="0.19" stroke-width="2"/>
<line x1="260" y1="646" x2="260" y2="768" stroke="#b0b0b0" stroke-opacity="0.19" stroke-width="2"/>
<line x1="347" y1="646" x2="347" y2="768" stroke="#b0b0b0" stroke-opacity="0.19" stroke-width="2"/>
<line x1="433" y1="646" x2="433" y2="768" stroke="#b0b0b0" stroke-opacity="0.19" stroke-width="2"/>
<line x1="520" y1="646" x2="520" y2="768" stroke="#b0b0b0" stroke-opacity="0.19" stroke-width="2"/>
<line x1="607" y1="646" x2="607" y2="768" stroke="#b0b0b0" stroke-opacity="0.19" stroke-width="2"/>
<line x1="693" y1="646" x2="693" y2="768" stroke="#b0b0b0" stroke-opacity="0.19" stroke-width="2"/>
<line x1="780" y1="646" x2="780" y2="768" stroke="#b0b0b0" stroke-opacity="0.19" stroke-width="2"/>
<line x1="866" y1="646" x2="866" y2="768" stroke="#b0b0b0" stroke-opacity="0.19" stroke-width="2"/>
<line x1="953" y1="646" x2="953" y2="768" stroke="#b0b0b0" stroke-opacity="0.19" stroke-width="2"/>
<line x1="87.0" y1="763" x2="1039.0" y2="763" stroke="#b0b0b0" stroke-opacity="0.21" stroke-width="2"/>
<line x1="87.0" y1="751" x2="1039.0" y2="751" stroke="#b0b0b0" stroke-opacity="0.21" stroke-width="2"/>
<line x1="87.0" y1="738" x2="1039.0" y2="738" stroke="#b0b0b0" stroke-opacity="0.21" stroke-width="2"/>
<line x1="87.0" y1="726" x2="1039.0" y2="726" stroke="#b0b0b0" stroke-opacity="0.21" stroke-width="2"/>
<line x1="87.0" y1="714" x2="1039.0" y2="714" stroke="#b0b0b0" stroke-opacity="0.21" stroke-width="2"/>
<line x1="87.0" y1="701" x2="1039.0" y2="701" stroke="#b0b0b0" stroke-opacity="0.21" stroke-width="2"/>
<line x1="87.0" y1="689" x2="1039.0" y2="689" stroke="#b0b0b0" stroke-opacity="0.21" stroke-width="2"/>
<line x1="87.0" y1="677" x2="1039.0" y2="677" stroke="#b0b0b0" stroke-opacity="0.21" stroke-width="2"/>
<line x1="87.0" y1="664" x2="1039.0" y2="664" stroke="#b0b0b0" stroke-opacity="0.21" stroke-width="2"/>
<line x1="87.0" y1="652" x2="1039.0" y2="652" stroke="#b0b0b0" stroke-opacity="0.21" stroke-width="2"/>
<path d="M129.8 761.7 L130.6 761.5 L131.4 762.1 L132.2 761.8 L133.0 762.3 L133.8 762.0 L134.6 762.6 L135.3 762.2 L136.1 762.7 L136.8 762.3 L137.6 762.7 L138.3 762.3 L139.1 762.8 L139.8 762.5 L140.6 762.9 L141.3 762.3 L142.0 762.5 L142.7 761.8 L143.5 762.1 L144.2 761.5 L144.9 761.5 L145.7 760.5 L146.4 760.6 L147.2 759.6 L148.4 759.6 L149.6 761.7 L150.5 762.6 L151.4 762.6 L152.3 762.3 L153.2 760.9 L153.8 750.9 L154.4 734.2 L154.7 735.4 L155.2 745.3 L155.6 734.0 L156.1 743.6 L156.5 733.2 L157.0 744.9 L157.4 735.9 L157.9 744.3 L158.3 733.7 L158.8 741.6 L159.2 734.4 L159.7 745.1 L160.1 733.5 L160.6 740.8 L161.0 736.7 L161.5 741.2 L161.9 734.1 L162.4 745.3 L162.8 733.2 L163.3 745.0 L163.9 745.0 L164.7 744.7 L165.4 745.2 L166.2 744.7 L166.9 745.1 L167.7 744.7 L168.3 736.4 L168.4 736.4 L168.5 736.4 L169.1 745.0 L169.8 745.2 L170.6 744.7 L171.3 745.2 L172.1 744.8 L172.8 745.2 L173.6 744.7 L174.3 745.2 L175.1 744.7 L175.8 745.1 L176.4 738.2 L176.5 738.2 L176.6 738.2 L177.2 745.0 L178.0 744.7 L178.7 745.2 L179.4 744.8 L180.2 745.1 L180.9 744.8 L181.6 745.2 L182.4 744.7 L183.1 745.1 L183.8 744.8 L184.4 736.4 L184.5 736.4 L184.7 736.4 L185.3 745.0 L186.0 745.2 L186.7 744.7 L187.4 745.2 L188.1 744.8 L188.9 745.2 L189.6 744.8 L190.3 745.2 L191.0 744.7 L191.6 737.0 L191.7 737.0 L191.9 737.0 L192.5 745.0 L193.2 745.1 L193.9 744.7 L194.7 745.2 L195.4 744.8 L196.1 745.2 L196.9 744.8 L197.6 745.1 L198.2 736.8 L198.3 736.8 L198.4 736.8 L199.0 745.0 L199.8 744.8 L200.6 745.1 L201.4 744.8 L202.2 745.2 L203.0 744.7 L203.8 745.2 L204.6 744.7 L205.2 738.8 L205.3 738.8 L205.4 738.8 L206.0 745.0 L206.7 745.1 L207.4 744.7 L208.2 745.2 L208.9 744.7 L209.6 745.2 L210.3 744.7 L210.9 735.2 L211.0 735.2 L211.1 735.2 L211.7 745.0 L212.7 745.1 L213.7 744.7 L214.4 745.2 L215.2 744.7 L215.9 745.2 L216.7 744.8 L217.4 745.2 L218.2 745.0 L218.9 745.4 L219.7 745.0 L220.6 744.7 L221.5 743.6 L222.3 740.2 L223.5 743.2 L224.3 744.6 L225.0 745.3 L225.9 744.9 L226.8 743.5 L227.6 743.2 L228.3 741.7 L229.1 742.8 L229.8 743.0 L230.7 744.2 L231.6 744.7 L232.4 744.7 L233.2 743.6 L234.0 743.4 L234.8 742.4 L235.5 742.2 L236.3 741.1 L237.0 741.0 L237.8 740.2 L238.5 740.3 L239.3 739.7 L240.0 739.7 L240.8 738.9 L241.6 738.9 L242.4 738.1 L243.3 736.4 L244.2 733.9 L245.4 728.2 L246.6 721.0 L247.5 716.8 L247.4 709.9 L248.7 704.1 L250.3 699.1 L251.4 697.3 L252.4 694.8 L253.1 694.6 L253.9 693.3 L254.6 693.1 L255.3 691.9 L256.1 691.9 L256.8 690.8 L257.6 690.7 L258.3 689.8 L259.1 689.8 L259.9 689.2 L260.7 689.4 L261.5 688.7 L262.4 689.1 L263.2 687.8 L264.0 687.8 L264.9 686.7 L265.7 686.5 L266.5 686.1 L267.3 686.5 L268.2 686.0 L269.0 686.5 L269.8 686.1 L270.7 686.6 L271.5 686.4 L272.4 686.9 L272.6 670.9 L272.8 687.5 L273.8 687.8 L274.8 688.5 L275.6 688.2 L276.5 688.8 L277.3 688.1 L278.1 688.2 L278.6 687.4 L278.8 676.3 L279.0 687.1 L279.8 687.3 L280.6 686.9 L281.4 687.6 L282.3 687.4 L283.1 688.1 L283.9 688.3 L284.8 689.2 L285.6 689.4 L286.4 690.1 L287.3 690.0 L288.1 690.7 L288.8 690.2 L289.5 690.6 L290.2 690.2 L290.9 690.6 L291.6 690.2 L292.4 690.7 L293.1 690.3 L293.8 690.7 L294.5 690.1 L295.2 690.6 L295.9 690.2 L296.6 690.7 L297.3 690.2 L298.0 690.6 L298.8 690.3 L299.5 690.6 L300.2 690.2 L300.9 690.6 L301.6 690.2 L302.3 690.6 L303.0 690.2 L303.8 690.7 L304.7 690.2 L305.5 690.7 L306.3 690.5 L307.2 690.9 L308.0 690.2 L308.8 690.4 L309.7 689.6 L310.5 690.5 L311.3 690.6 L312.1 691.4 L313.0 691.6 L313.8 692.6 L314.6 692.7 L315.5 693.1 L316.3 692.7 L317.1 693.1 L317.9 692.7 L318.8 692.9 L319.6 692.3 L320.4 692.5 L321.3 691.8 L322.0 692.0 L322.8 691.3 L323.5 691.3 L324.3 690.5 L325.0 690.7 L325.7 690.5 L326.5 691.2 L327.2 691.0 L328.0 691.6 L328.7 691.5 L329.5 692.1 L330.2 692.0 L331.0 692.6 L331.7 692.1 L332.4 692.6 L333.1 692.2 L333.9 692.6 L334.6 692.2 L335.3 692.6 L336.0 692.2 L336.7 692.6 L337.4 692.2 L338.1 692.5 L338.9 692.2 L339.6 692.7 L340.3 692.1 L341.0 692.6 L341.7 692.2 L342.4 692.7 L343.1 692.4 L343.9 692.8 L344.6 692.4 L345.3 692.9 L346.0 692.5 L346.7 693.0 L347.4 692.5 L348.1 693.0 L348.9 692.7 L349.6 693.1 L350.3 692.8 L351.0 693.2 L351.7 692.5 L352.4 692.8 L353.1 692.1 L353.9 692.3 L354.6 691.7 L355.3 692.1 L356.0 691.4 L356.8 691.5 L357.6 690.8 L358.4 690.9 L359.2 690.1 L360.0 690.2 L360.7 690.1 L361.4 690.9 L362.1 690.8 L362.9 691.6 L363.6 691.4 L364.3 692.3 L365.0 692.3 L365.8 692.5 L366.5 692.0 L367.2 692.5 L368.0 692.0 L368.8 692.3 L369.5 691.8 L370.2 692.3 L371.0 691.8 L371.8 692.1 L372.5 691.6 L373.2 691.9 L374.0 691.6 L374.8 691.8 L375.5 691.3 L376.2 691.8 L377.0 691.2 L377.7 691.7 L378.4 691.2 L379.1 691.7 L379.9 691.2 L380.6 691.8 L381.3 691.2 L382.0 691.8 L382.7 691.3 L383.4 691.7 L384.1 691.3 L384.9 691.8 L385.6 691.4 L386.3 691.8 L387.0 691.4 L387.7 691.8 L388.4 691.4 L389.1 691.8 L389.8 691.3 L390.5 691.8 L391.2 691.3 L391.9 691.8 L392.6 691.4 L393.3 691.7 L394.0 691.3 L394.7 691.8 L395.4 691.2 L396.1 691.7 L396.8 691.2 L397.5 691.6 L398.2 691.2 L398.9 691.6 L399.6 691.2 L400.3 691.6 L401.0 691.2 L401.7 691.6 L402.5 690.9 L403.2 691.3 L403.9 690.8 L404.6 691.1 L405.4 690.6 L406.1 691.0 L406.8 690.5 L407.5 690.8 L408.3 690.2 L409.0 690.7 L409.7 690.2 L410.5 690.6 L411.2 690.1 L411.9 690.6 L412.6 690.2 L413.4 690.6 L414.1 690.2 L414.8 690.6 L415.5 690.3 L416.3 690.6 L417.0 690.3 L417.7 690.7 L418.4 690.1 L419.1 690.6 L419.9 690.0 L420.6 690.6 L421.3 690.1 L422.0 690.5 L422.7 690.1 L423.4 690.5 L424.1 690.0 L424.9 690.5 L425.6 690.0 L426.3 690.4 L427.0 690.0 L427.7 690.5 L428.4 690.1 L429.1 690.7 L429.8 690.2 L430.5 690.8 L431.2 690.5 L431.9 690.9 L432.6 690.5 L433.3 691.1 L434.0 690.8 L434.7 691.4 L435.4 691.1 L436.1 691.9 L436.8 691.6 L437.5 692.3 L438.2 691.9 L438.9 692.6 L439.6 692.4 L440.3 693.1 L441.0 692.8 L441.8 693.4 L442.5 693.2 L443.2 694.0 L444.0 693.8 L444.8 694.5 L445.5 694.3 L446.2 694.9 L447.0 694.8 L447.7 695.6 L448.5 695.6 L449.2 696.3 L449.9 696.2 L450.6 697.0 L451.4 696.9 L452.1 697.8 L452.8 697.7 L453.5 698.4 L454.3 698.4 L455.0 699.2 L455.7 699.1 L456.5 699.7 L457.2 699.5 L457.9 700.4 L458.6 700.2 L459.4 700.9 L460.1 700.7 L460.8 701.4 L461.5 701.3 L462.3 701.9 L463.0 701.8 L463.8 702.6 L464.5 702.4 L465.2 703.1 L466.0 703.1 L466.8 703.8 L467.5 703.7 L468.2 704.5 L469.0 704.3 L469.8 704.9 L470.5 704.6 L471.2 705.1 L472.0 704.8 L472.8 705.4 L473.5 705.1 L474.2 705.7 L475.0 705.5 L475.8 705.6 L476.5 704.8 L477.2 705.0 L478.0 704.3 L478.8 704.6 L479.5 703.8 L480.2 704.0 L481.0 703.4 L481.7 703.4 L482.5 702.5 L483.2 702.6 L483.9 701.7 L484.6 701.7 L485.4 700.9 L486.1 700.9 L486.8 700.1 L487.5 700.0 L488.3 699.2 L489.0 699.2 L489.7 698.3 L490.5 698.4 L491.2 697.7 L491.9 697.7 L492.6 697.0 L493.4 697.0 L494.1 696.3 L494.8 696.3 L495.5 695.5 L496.3 695.6 L497.0 694.8 L497.7 695.0 L498.5 694.3 L499.2 694.6 L499.9 693.9 L500.6 694.0 L501.4 693.4 L502.1 693.5 L502.8 692.8 L503.5 693.0 L504.3 692.4 L505.0 692.6 L506.0 692.3 L507.0 692.8 L507.7 692.2 L508.5 692.5 L509.2 692.1 L509.9 692.4 L510.6 691.8 L511.4 692.0 L512.1 691.5 L512.8 691.8 L513.5 691.3 L514.3 691.5 L515.0 690.9 L515.7 691.3 L516.5 690.9 L517.2 691.3 L517.9 690.8 L518.6 691.1 L519.4 690.7 L520.1 691.1 L520.8 690.5 L521.5 690.9 L522.3 690.5 L523.0 690.8 L523.8 690.5 L524.5 691.1 L525.2 690.7 L526.0 691.3 L526.8 691.0 L527.5 691.5 L528.2 691.3 L529.0 691.9 L529.7 691.4 L530.4 691.9 L531.2 691.4 L531.9 691.8 L532.6 691.5 L533.3 691.8 L534.0 691.4 L534.8 691.9 L535.5 691.5 L536.2 691.9 L536.9 691.5 L537.6 691.9 L538.4 691.5 L539.1 691.9 L539.8 691.5 L540.5 692.0 L541.2 691.6 L542.0 692.0 L542.7 691.5 L543.4 691.9 L544.1 691.6 L544.8 692.0 L545.6 691.6 L546.3 692.0 L547.0 691.5 L547.7 692.0 L548.4 691.6 L549.1 692.0 L549.9 691.5 L550.6 692.0 L551.3 691.5 L552.0 692.0 L552.7 691.6 L553.4 692.1 L554.1 691.5 L554.9 692.0 L555.6 691.6 L556.3 692.0 L557.0 691.7 L557.7 692.1 L558.4 691.5 L559.1 692.1 L559.9 691.6 L560.6 692.1 L561.3 691.6 L562.0 692.1 L562.7 691.6 L563.4 691.9 L564.1 691.5 L564.9 692.0 L565.6 691.5 L566.3 692.0 L567.0 691.6 L567.7 692.0 L568.4 691.6 L569.1 692.0 L569.9 691.5 L570.6 691.8 L571.3 691.4 L572.0 691.7 L572.7 691.4 L573.4 691.8 L574.1 691.4 L574.9 691.6 L575.6 691.3 L576.3 691.6 L577.0 691.1 L577.7 691.7 L578.4 691.1 L579.1 691.7 L579.9 691.2 L580.6 691.7 L581.3 691.3 L582.0 691.7 L582.7 691.2 L583.4 691.7 L584.1 691.3 L584.9 691.6 L585.6 691.2 L586.3 691.7 L587.0 691.3 L587.7 691.8 L588.4 691.4 L589.1 691.8 L589.9 691.3 L590.6 691.8 L591.3 691.3 L592.0 691.7 L592.7 691.3 L593.4 691.7 L594.1 691.3 L594.9 691.9 L595.6 691.4 L596.3 691.8 L597.0 691.4 L597.7 691.8 L598.4 691.4 L599.1 691.9 L599.9 691.4 L600.6 691.8 L601.3 691.4 L602.0 691.7 L602.7 691.3 L603.4 691.9 L604.1 691.3 L604.9 691.8 L605.6 691.4 L606.3 691.8 L607.0 691.3 L607.7 691.8 L608.4 691.4 L609.1 691.8 L609.9 691.4 L610.6 691.9 L611.3 691.4 L612.0 691.8 L612.7 691.3 L613.4 691.8 L614.1 691.3 L614.9 691.8 L615.6 691.3 L616.3 691.8 L617.0 691.4 L617.7 691.8 L618.4 691.4 L619.1 691.8 L619.9 691.4 L620.6 691.8 L621.3 691.4 L622.0 691.7 L622.7 691.3 L623.4 691.8 L624.1 691.3 L624.9 691.8 L625.6 691.4 L626.3 691.8 L627.0 691.4 L627.7 691.9 L628.4 691.4 L629.1 691.9 L629.9 691.3 L630.6 691.8 L631.3 691.3 L632.0 691.8 L632.7 691.4 L633.4 691.9 L634.1 691.4 L634.9 691.8 L635.6 691.4 L636.3 691.8 L637.0 691.4 L637.7 691.8 L638.4 691.3 L639.1 691.8 L639.9 691.4 L640.6 691.8 L641.3 691.4 L642.0 691.8 L642.7 691.4 L643.4 691.8 L644.1 691.4 L644.9 691.8 L645.6 691.3 L646.3 691.7 L647.0 691.3 L647.7 691.8 L648.4 691.5 L649.1 691.9 L649.9 691.4 L650.6 691.8 L651.3 691.4 L652.0 691.9 L652.7 691.4 L653.4 691.9 L654.1 691.4 L654.9 691.8 L655.6 691.4 L656.3 691.8 L657.0 691.4 L657.7 691.7 L658.4 691.3 L659.1 691.8 L659.8 691.4 L660.5 691.8 L661.3 691.3 L662.0 691.7 L662.7 691.3 L663.4 691.8 L664.1 691.4 L664.8 691.7 L665.5 691.4 L666.2 691.7 L666.9 691.4 L667.6 691.7 L668.4 691.3 L669.1 691.7 L669.8 691.3 L670.5 691.7 L671.2 691.2 L671.9 691.7 L672.6 691.3 L673.3 691.6 L674.0 691.3 L674.7 691.6 L675.5 691.3 L676.2 691.7 L676.9 691.2 L677.6 691.7 L678.3 691.2 L679.0 691.5 L679.7 691.2 L680.5 691.7 L681.2 691.2 L681.9 691.7 L682.6 691.4 L683.4 691.8 L684.1 691.4 L684.8 691.9 L685.5 691.5 L686.3 692.0 L687.0 691.5 L687.7 692.1 L688.5 691.7 L689.2 692.1 L689.9 691.7 L690.6 692.3 L691.4 691.8 L692.1 692.3 L692.8 691.9 L693.5 692.3 L694.3 691.9 L695.0 692.4 L695.7 691.9 L696.4 692.4 L697.1 691.9 L697.8 692.3 L698.5 691.7 L699.2 692.3 L699.9 691.8 L700.6 692.2 L701.4 691.6 L702.1 692.1 L702.8 691.6 L703.5 691.9 L704.2 691.6 L704.9 692.0 L705.6 691.4 L706.3 691.8 L707.0 691.4 L707.7 691.9 L708.5 691.4 L709.2 691.8 L709.9 691.5 L710.6 692.0 L711.4 691.6 L712.1 692.0 L712.8 691.7 L713.5 692.2 L714.3 691.8 L715.0 692.3 L716.0 692.0 L717.0 692.6 L717.7 692.1 L718.4 692.5 L719.1 692.1 L719.9 692.4 L720.6 692.0 L721.3 692.4 L722.0 691.9 L722.7 692.4 L723.4 692.0 L724.1 692.3 L724.9 691.9 L725.6 692.3 L726.3 691.9 L727.0 692.2 L727.7 691.8 L728.4 692.2 L729.1 691.7 L729.9 692.0 L730.6 691.6 L731.3 692.0 L732.0 691.5 L732.7 691.9 L733.4 691.3 L734.1 691.8 L734.9 691.3 L735.6 691.7 L736.3 691.3 L737.0 691.5 L737.7 691.2 L738.4 691.8 L739.1 691.4 L739.9 691.8 L740.6 691.4 L741.3 691.9 L742.0 691.6 L742.7 692.1 L743.4 691.7 L744.1 692.3 L744.9 691.7 L745.6 692.3 L746.3 691.9 L747.0 692.4 L747.7 692.1 L748.4 692.4 L749.1 691.9 L749.9 692.4 L750.6 692.0 L751.3 692.5 L752.0 692.1 L752.7 692.5 L753.4 692.0 L754.1 692.4 L754.9 691.9 L755.6 692.3 L756.3 692.0 L757.0 692.4 L757.7 692.0 L758.4 692.3 L759.1 692.0 L759.9 692.4 L760.6 692.1 L761.3 692.3 L762.0 692.0 L762.7 692.4 L763.4 692.0 L764.1 692.5 L764.9 692.0 L765.6 692.4 L766.3 692.0 L767.0 692.5 L767.7 692.0 L768.5 692.4 L769.2 692.0 L769.9 692.5 L770.6 692.0 L771.4 692.4 L772.1 691.9 L772.8 692.3 L773.5 692.0 L774.3 692.4 L775.0 691.9 L775.7 692.3 L776.5 691.9 L777.2 692.3 L777.9 691.9 L778.6 692.3 L779.4 691.9 L780.1 692.3 L780.8 691.8 L781.5 692.2 L782.3 691.8 L783.0 692.1 L783.7 691.8 L784.4 692.3 L785.1 692.0 L785.9 692.3 L786.6 692.0 L787.3 692.5 L788.0 692.0 L788.7 692.5 L789.4 692.2 L790.1 692.7 L790.9 692.3 L791.6 692.8 L792.3 692.3 L793.0 692.9 L793.7 692.4 L794.5 692.9 L795.2 692.5 L795.9 693.1 L796.6 692.8 L797.4 693.3 L798.1 692.9 L798.8 693.5 L799.5 693.0 L800.3 693.5 L801.0 693.1 L801.7 693.5 L802.4 693.1 L803.1 693.5 L803.9 693.0 L804.6 693.3 L805.3 692.8 L806.0 693.2 L806.7 692.7 L807.4 693.0 L808.1 692.6 L808.9 693.0 L809.6 692.5 L810.3 692.8 L811.0 692.4 L811.7 692.9 L812.5 692.4 L813.2 692.8 L813.9 692.4 L814.6 692.8 L815.4 692.3 L816.1 692.8 L816.8 692.4 L817.5 692.8 L818.3 692.4 L819.0 692.8 L819.8 692.2 L820.6 692.7 L821.4 692.0 L822.2 692.4 L823.0 691.8 L823.8 692.4 L824.5 692.2 L825.2 692.8 L826.0 692.4 L826.8 693.2 L827.5 692.8 L828.2 693.5 L829.0 693.2 L829.8 693.8 L830.5 693.4 L831.2 694.0 L832.0 693.7 L832.8 694.3 L833.5 693.9 L834.2 694.5 L835.0 694.2 L835.7 694.5 L836.4 694.2 L837.1 694.5 L837.9 694.1 L838.6 694.4 L839.3 694.1 L840.0 694.4 L840.7 693.9 L841.4 694.3 L842.1 693.8 L842.9 694.3 L843.6 693.8 L844.3 694.2 L845.0 693.8 L845.8 694.2 L846.5 693.9 L847.2 694.2 L848.0 693.8 L848.8 694.1 L849.5 693.7 L850.2 694.2 L851.0 693.9 L851.7 694.0 L852.4 693.3 L853.1 693.3 L853.9 692.7 L854.6 692.7 L855.3 692.0 L856.0 692.2 L856.8 691.4 L857.6 691.4 L858.4 690.6 L859.2 690.7 L860.0 689.8 L860.7 690.5 L861.5 690.1 L862.2 690.7 L862.9 690.4 L863.7 691.0 L864.4 690.8 L865.1 691.0 L865.8 690.2 L866.6 690.4 L867.3 689.6 L868.0 689.8 L868.8 689.1 L869.5 688.9 L870.2 687.9 L871.0 687.7 L871.7 686.7 L872.4 686.6 L873.2 684.8 L873.9 684.1 L874.6 682.3 L875.3 681.6 L876.1 679.3 L876.8 678.1 L877.5 676.0 L878.3 674.9 L878.7 676.7 L879.2 674.0 L879.6 675.3 L880.1 672.2 L880.5 675.3 L881.0 671.7 L881.4 674.4 L881.9 670.1 L882.3 673.5 L882.8 668.7 L883.2 673.3 L883.7 668.8 L884.1 669.9 L884.6 667.2 L885.0 671.5 L885.5 662.7 L885.9 671.4 L886.4 661.3 L886.8 667.3 L887.3 662.2 L887.7 667.5 L888.2 661.2 L888.6 664.2 L889.1 658.7 L889.5 668.7 L890.0 657.9 L890.4 668.3 L890.9 655.6 L891.3 667.8 L891.8 658.2 L892.2 666.5 L892.7 655.1 L893.1 662.5 L893.6 655.5 L894.0 662.3 L894.5 657.6 L894.9 666.1 L895.4 657.6 L895.8 665.2 L896.3 659.1 L896.7 665.8 L897.2 655.7 L897.6 664.6 L898.1 654.9 L898.5 668.9 L899.0 654.6 L899.4 672.8 L899.9 654.3 L900.3 667.6 L900.8 654.8 L901.2 670.0 L901.7 653.4 L902.1 669.8 L902.6 655.0 L903.0 673.4 L903.5 653.7 L903.9 671.0 L904.4 654.5 L904.8 673.5 L905.3 656.4 L905.7 677.4 L906.2 665.3 L906.6 671.8 L907.1 669.8 L907.5 681.8 L908.0 667.1 L908.4 681.3 L908.9 673.6 L909.3 687.8 L909.8 678.7 L910.2 691.1 L910.7 683.6 L911.1 693.8 L911.6 681.3 L912.0 692.9 L912.5 684.9 L912.9 694.5 L913.4 688.4 L913.8 694.0 L914.3 690.9 L914.7 698.9 L915.2 692.0 L915.6 702.4 L916.1 694.4 L916.5 705.9 L917.0 699.2 L917.4 708.4 L917.9 699.7 L918.3 709.8 L918.8 704.9 L920.6 712.0 L921.4 713.3 L922.1 713.9 L922.8 715.4 L923.6 716.1 L924.3 718.3 L925.0 719.5 L925.8 721.7 L927.5 728.8 L928.7 736.1 L929.9 743.4 L931.3 749.9 L932.2 750.9 L933.1 752.7 L933.8 752.3 L934.5 752.9 L935.3 752.5 L936.0 753.1 L936.7 752.6 L937.5 752.8 L938.2 752.3 L938.9 752.7 L939.6 752.1 L940.4 752.4 L941.1 752.1 L941.8 752.7 L942.6 752.6 L943.3 753.1 L944.0 752.9 L944.8 753.6 L945.5 753.0 L946.2 753.5 L947.0 753.0 L947.7 753.5 L948.4 753.1 L949.1 753.6 L949.9 753.1 L950.6 753.5 L951.3 753.0 L952.1 753.3 L952.8 752.9 L953.5 753.2 L954.3 752.7 L955.0 753.1 L955.7 752.5 L956.4 753.0 L957.2 752.4 L957.9 752.8 L958.6 752.3 L959.4 752.6 L960.1 752.3 L960.8 752.7 L961.6 752.3 L962.3 752.7 L963.0 752.3 L963.8 752.9 L964.5 752.5 L965.2 752.8 L965.9 752.5 L966.7 752.9 L967.4 752.6 L968.1 753.0 L968.9 752.5 L969.6 753.1 L970.3 752.5 L971.1 753.1 L971.8 752.6 L972.5 753.1 L973.3 752.7 L974.0 753.0 L974.7 752.6 L975.4 753.0 L976.2 752.7 L976.9 753.0 L977.6 752.6 L978.4 753.0 L979.1 752.6 L979.8 752.9 L980.6 752.5 L981.3 753.0 L982.0 752.5 L982.8 752.8 L983.5 752.4 L984.2 752.9 L984.9 752.3 L985.7 752.8 L986.4 752.4 L987.1 752.8 L987.9 752.2 L988.6 752.6 L989.3 751.9 L990.1 752.3 L990.8 751.5 L991.5 751.8 L992.3 751.2 L993.0 751.8 L993.7 751.5 L994.4 752.1" fill="none" stroke="#9467bd" stroke-width="4.2" stroke-linejoin="round" stroke-linecap="round"/>
<line x1="87" y1="768" x2="87" y2="777" stroke="#000" stroke-width="2"/>
<line x1="174" y1="768" x2="174" y2="777" stroke="#000" stroke-width="2"/>
<line x1="260" y1="768" x2="260" y2="777" stroke="#000" stroke-width="2"/>
<line x1="347" y1="768" x2="347" y2="777" stroke="#000" stroke-width="2"/>
<line x1="433" y1="768" x2="433" y2="777" stroke="#000" stroke-width="2"/>
<line x1="520" y1="768" x2="520" y2="777" stroke="#000" stroke-width="2"/>
<line x1="607" y1="768" x2="607" y2="777" stroke="#000" stroke-width="2"/>
<line x1="693" y1="768" x2="693" y2="777" stroke="#000" stroke-width="2"/>
<line x1="780" y1="768" x2="780" y2="777" stroke="#000" stroke-width="2"/>
<line x1="866" y1="768" x2="866" y2="777" stroke="#000" stroke-width="2"/>
<line x1="953" y1="768" x2="953" y2="777" stroke="#000" stroke-width="2"/>
<line x1="1039" y1="768" x2="1039" y2="777" stroke="#000" stroke-width="2"/>
<line x1="78.0" y1="763" x2="87.0" y2="763" stroke="#000" stroke-width="2"/>
<text x="69" y="771" font-size="19.2" text-anchor="end">0</text>
<line x1="78.0" y1="751" x2="87.0" y2="751" stroke="#000" stroke-width="2"/>
<text x="69" y="759" font-size="19.2" text-anchor="end">1</text>
<line x1="78.0" y1="738" x2="87.0" y2="738" stroke="#000" stroke-width="2"/>
<text x="69" y="746" font-size="19.2" text-anchor="end">2</text>
<line x1="78.0" y1="726" x2="87.0" y2="726" stroke="#000" stroke-width="2"/>
<text x="69" y="734" font-size="19.2" text-anchor="end">3</text>
<line x1="78.0" y1="714" x2="87.0" y2="714" stroke="#000" stroke-width="2"/>
<text x="69" y="722" font-size="19.2" text-anchor="end">4</text>
<line x1="78.0" y1="701" x2="87.0" y2="701" stroke="#000" stroke-width="2"/>
<text x="69" y="709" font-size="19.2" text-anchor="end">5</text>
<line x1="78.0" y1="689" x2="87.0" y2="689" stroke="#000" stroke-width="2"/>
<text x="69" y="697" font-size="19.2" text-anchor="end">6</text>
<line x1="78.0" y1="677" x2="87.0" y2="677" stroke="#000" stroke-width="2"/>
<text x="69" y="685" font-size="19.2" text-anchor="end">7</text>
<line x1="78.0" y1="664" x2="87.0" y2="664" stroke="#000" stroke-width="2"/>
<text x="69" y="672" font-size="19.2" text-anchor="end">8</text>
<line x1="78.0" y1="652" x2="87.0" y2="652" stroke="#000" stroke-width="2"/>
<text x="69" y="660" font-size="19.2" text-anchor="end">9</text>
<rect x="87.0" y="646" width="952.0" height="122" fill="none" stroke="#000" stroke-width="2"/>
<text transform="translate(43.3,709.3) rotate(-90)" font-size="16" text-anchor="middle" textLength="20" lengthAdjust="spacingAndGlyphs">dB</text>
<rect x="95.7" y="654.35" width="155.75" height="27.05" rx="3.6" fill="#fff" fill-opacity="0.8" stroke="#d2d2d2" stroke-width="2.7"/>
<line x1="99.0" y1="667.0" x2="134.1" y2="667.0" stroke="#9467bd" stroke-width="4.1"/>
<text x="143.9" y="671.9" font-size="16.2" textLength="101.3" lengthAdjust="spacingAndGlyphs">1413.50 MHz</text>
</g>
<text x="87" y="802" font-size="19.2" text-anchor="middle" textLength="52.4" lengthAdjust="spacingAndGlyphs">06:00</text>
<text x="174" y="802" font-size="19.2" text-anchor="middle" textLength="52.4" lengthAdjust="spacingAndGlyphs">07:00</text>
<text x="260" y="802" font-size="19.2" text-anchor="middle" textLength="52.4" lengthAdjust="spacingAndGlyphs">08:00</text>
<text x="347" y="802" font-size="19.2" text-anchor="middle" textLength="52.4" lengthAdjust="spacingAndGlyphs">09:00</text>
<text x="433" y="802" font-size="19.2" text-anchor="middle" textLength="52.4" lengthAdjust="spacingAndGlyphs">10:00</text>
<text x="520" y="802" font-size="19.2" text-anchor="middle" textLength="52.4" lengthAdjust="spacingAndGlyphs">11:00</text>
<text x="607" y="802" font-size="19.2" text-anchor="middle" textLength="52.4" lengthAdjust="spacingAndGlyphs">12:00</text>
<text x="693" y="802" font-size="19.2" text-anchor="middle" textLength="52.4" lengthAdjust="spacingAndGlyphs">13:00</text>
<text x="780" y="802" font-size="19.2" text-anchor="middle" textLength="52.4" lengthAdjust="spacingAndGlyphs">14:00</text>
<text x="866" y="802" font-size="19.2" text-anchor="middle" textLength="52.4" lengthAdjust="spacingAndGlyphs">15:00</text>
<text x="953" y="802" font-size="19.2" text-anchor="middle" textLength="52.4" lengthAdjust="spacingAndGlyphs">16:00</text>
<text x="1039" y="802" font-size="19.2" text-anchor="middle" textLength="52.4" lengthAdjust="spacingAndGlyphs">17:00</text>
<text x="563.3" y="837.7" font-size="26.7" font-weight="bold" text-anchor="middle">Time [UT]</text>
<text class="g" x="92.4" y="840" font-size="16.15">Humain Radioastronomy Station</text>
<text class="g" x="1034.7" y="840" font-size="16.15" text-anchor="end">Royal Observatory of Belgium - 2021</text>
</svg></body></html>
